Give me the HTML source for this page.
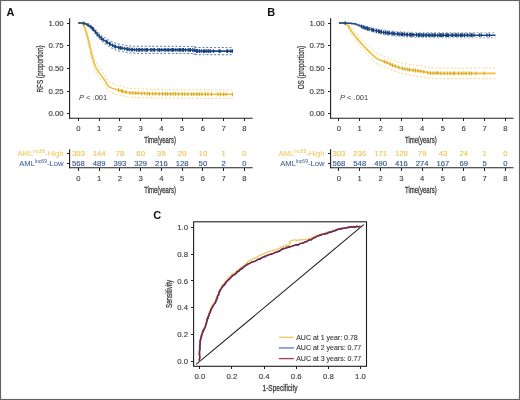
<!DOCTYPE html>
<html><head><meta charset="utf-8"><style>html,body{margin:0;padding:0;background:#fff;width:520px;height:400px;overflow:hidden}</style></head>
<body>
<svg width="520" height="400" viewBox="0 0 520 400" style="display:block;will-change:transform;font-family:'Liberation Sans', sans-serif">
<rect x="0" y="0" width="520" height="400" fill="#fff"/>
<text x="10.40" y="15.80" font-size="11" fill="#111" text-anchor="middle" font-weight="bold"  >A</text>
<text x="271.30" y="15.80" font-size="11" fill="#111" text-anchor="middle" font-weight="bold"  >B</text>
<text x="157.30" y="219.20" font-size="11" fill="#111" text-anchor="middle" font-weight="bold"  >C</text>
<path d="M78.40,23.05 L78.64,23.04 L78.97,23.00 L79.37,22.95 L79.80,22.91 L80.25,22.90 L80.71,22.92 L81.13,22.99 L81.51,23.47 L81.85,23.89 L82.17,24.27 L82.47,24.66 L82.77,25.10 L83.06,25.62 L83.36,26.25 L83.67,26.99 L84.00,27.88 L84.36,28.95 L84.74,30.19 L85.13,31.55 L85.53,32.98 L85.92,34.44 L86.30,35.87 L86.66,37.24 L86.99,38.50 L87.29,39.66 L87.56,40.78 L87.82,41.87 L88.06,42.95 L88.29,44.01 L88.52,45.08 L88.76,46.15 L89.00,47.26 L89.25,48.39 L89.50,49.54 L89.75,50.71 L90.00,51.87 L90.25,53.04 L90.50,54.18 L90.75,55.30 L91.00,56.39 L91.24,57.44 L91.47,58.45 L91.71,59.45 L91.94,60.42 L92.18,61.40 L92.44,62.37 L92.71,63.36 L93.01,64.36 L93.33,65.39 L93.66,66.45 L94.01,67.52 L94.38,68.60 L94.76,69.66 L95.16,70.69 L95.57,71.68 L96.00,72.62 L96.44,73.51 L96.91,74.34 L97.39,75.14 L97.89,75.92 L98.40,76.67 L98.92,77.42 L99.45,78.17 L99.98,78.94 L100.53,79.70 L101.09,80.46 L101.67,81.22 L102.25,81.97 L102.84,82.71 L103.42,83.46 L103.99,84.21 L104.55,84.97 L105.07,85.76 L105.56,86.58 L106.04,87.42 L106.52,88.25 L107.01,89.05 L107.52,89.80 L108.08,90.48 L108.70,91.07 L109.38,91.56 L110.11,91.96 L110.89,92.30 L111.69,92.59 L112.51,92.84 L113.33,93.08 L114.14,93.31 L114.92,93.56 L115.68,93.81 L116.42,94.05 L117.16,94.27 L117.89,94.47 L118.63,94.67 L119.38,94.87 L120.15,95.07 L120.94,95.26 L121.75,95.47 L122.58,95.68 L123.43,95.89 L124.28,96.10 L125.15,96.29 L126.02,96.48 L126.90,96.64 L127.78,96.79 L128.55,96.90 L129.16,97.00 L129.70,97.07 L130.29,97.13 L131.01,97.19 L131.98,97.25 L133.29,97.31 L135.05,97.38 L137.19,97.46 L139.61,97.55 L142.30,97.64 L145.27,97.73 L148.51,97.82 L152.04,97.90 L155.85,97.98 L159.95,98.05 L164.54,98.11 L169.72,98.16 L175.30,98.21 L181.10,98.25 L186.94,98.28 L192.64,98.32 L198.02,98.35 L202.90,98.38 L207.48,98.41 L212.03,98.44 L216.45,98.46 L220.63,98.49 L224.47,98.51 L227.88,98.52 L230.75,98.54 L232.99,98.55" fill="none" stroke="#EBC555" stroke-width="0.85" stroke-dasharray="2,1.85" opacity="0.85"/>
<path d="M78.40,23.05 L78.64,23.04 L78.97,23.00 L79.37,22.95 L79.80,22.91 L80.25,22.90 L80.71,22.92 L81.13,22.99 L81.51,22.82 L81.85,22.76 L82.17,22.78 L82.47,22.85 L82.77,22.97 L83.06,23.15 L83.36,23.40 L83.67,23.75 L84.00,24.21 L84.36,24.82 L84.74,25.58 L85.13,26.47 L85.53,27.45 L85.92,28.48 L86.30,29.54 L86.66,30.57 L86.99,31.55 L87.29,32.47 L87.56,33.36 L87.82,34.25 L88.06,35.13 L88.29,36.01 L88.52,36.90 L88.76,37.81 L89.00,38.75 L89.25,39.73 L89.50,40.73 L89.75,41.75 L90.00,42.78 L90.25,43.82 L90.50,44.85 L90.75,45.86 L91.00,46.85 L91.24,47.81 L91.47,48.75 L91.71,49.67 L91.94,50.58 L92.18,51.50 L92.44,52.41 L92.71,53.35 L93.01,54.30 L93.33,55.29 L93.66,56.31 L94.01,57.35 L94.38,58.39 L94.76,59.43 L95.16,60.45 L95.57,61.43 L96.00,62.36 L96.44,63.24 L96.91,64.08 L97.39,64.89 L97.89,65.67 L98.40,66.43 L98.92,67.20 L99.45,67.96 L99.98,68.75 L100.53,69.54 L101.09,70.32 L101.67,71.10 L102.25,71.89 L102.84,72.67 L103.42,73.46 L103.99,74.25 L104.55,75.05 L105.07,75.88 L105.56,76.76 L106.04,77.66 L106.52,78.56 L107.01,79.43 L107.52,80.25 L108.08,81.00 L108.70,81.65 L109.38,82.18 L110.11,82.63 L110.89,83.01 L111.69,83.33 L112.51,83.61 L113.33,83.87 L114.14,84.14 L114.92,84.42 L115.68,84.70 L116.42,84.96 L117.16,85.21 L117.89,85.44 L118.63,85.67 L119.38,85.89 L120.15,86.11 L120.94,86.34 L121.75,86.57 L122.58,86.81 L123.43,87.05 L124.28,87.29 L125.15,87.52 L126.02,87.73 L126.90,87.92 L127.78,88.08 L128.55,88.22 L129.16,88.33 L129.70,88.41 L130.29,88.48 L131.01,88.55 L131.98,88.61 L133.29,88.68 L135.05,88.76 L137.19,88.86 L139.61,88.96 L142.30,89.07 L145.27,89.17 L148.51,89.28 L152.04,89.37 L155.85,89.46 L159.95,89.54 L164.54,89.61 L169.72,89.67 L175.30,89.73 L181.10,89.78 L186.94,89.82 L192.64,89.86 L198.02,89.90 L202.90,89.94 L207.48,89.97 L212.03,90.00 L216.45,90.03 L220.63,90.06 L224.47,90.08 L227.88,90.10 L230.75,90.12 L232.99,90.13" fill="none" stroke="#EBC555" stroke-width="0.85" stroke-dasharray="2,1.85" opacity="0.85"/>
<path d="M78.40,23.05 L78.64,23.04 L78.97,23.00 L79.37,22.95 L79.80,22.91 L80.25,22.90 L80.71,22.92 L81.13,22.99 L81.51,23.14 L81.85,23.33 L82.17,23.53 L82.47,23.76 L82.77,24.04 L83.06,24.39 L83.36,24.82 L83.67,25.37 L84.00,26.04 L84.36,26.88 L84.74,27.88 L85.13,29.01 L85.53,30.22 L85.92,31.46 L86.30,32.71 L86.66,33.91 L86.99,35.02 L87.29,36.06 L87.56,37.07 L87.82,38.06 L88.06,39.04 L88.29,40.01 L88.52,40.99 L88.76,41.98 L89.00,43.00 L89.25,44.06 L89.50,45.13 L89.75,46.23 L90.00,47.33 L90.25,48.43 L90.50,49.52 L90.75,50.58 L91.00,51.62 L91.24,52.62 L91.47,53.60 L91.71,54.56 L91.94,55.50 L92.18,56.45 L92.44,57.39 L92.71,58.35 L93.01,59.33 L93.33,60.34 L93.66,61.38 L94.01,62.44 L94.38,63.50 L94.76,64.54 L95.16,65.57 L95.57,66.56 L96.00,67.49 L96.44,68.37 L96.91,69.21 L97.39,70.01 L97.89,70.79 L98.40,71.55 L98.92,72.31 L99.45,73.07 L99.98,73.84 L100.53,74.62 L101.09,75.39 L101.67,76.16 L102.25,76.93 L102.84,77.69 L103.42,78.46 L103.99,79.23 L104.55,80.01 L105.07,80.82 L105.56,81.67 L106.04,82.54 L106.52,83.41 L107.01,84.24 L107.52,85.03 L108.08,85.74 L108.70,86.36 L109.38,86.87 L110.11,87.30 L110.89,87.65 L111.69,87.96 L112.51,88.23 L113.33,88.48 L114.14,88.72 L114.92,88.99 L115.68,89.26 L116.42,89.50 L117.16,89.74 L117.89,89.96 L118.63,90.17 L119.38,90.38 L120.15,90.59 L120.94,90.80 L121.75,91.02 L122.58,91.25 L123.43,91.47 L124.28,91.69 L125.15,91.90 L126.02,92.10 L126.90,92.28 L127.78,92.44 L128.55,92.56 L129.16,92.66 L129.70,92.74 L130.29,92.81 L131.01,92.87 L131.98,92.93 L133.29,92.99 L135.05,93.07 L137.19,93.16 L139.61,93.25 L142.30,93.35 L145.27,93.45 L148.51,93.55 L152.04,93.64 L155.85,93.72 L159.95,93.80 L164.54,93.86 L169.72,93.92 L175.30,93.97 L181.10,94.01 L186.94,94.05 L192.64,94.09 L198.02,94.12 L202.90,94.16 L207.48,94.19 L212.03,94.22 L216.45,94.25 L220.63,94.27 L224.47,94.29 L227.88,94.31 L230.75,94.33 L232.99,94.34" fill="none" stroke="#ECBF40" stroke-width="1.55" stroke-linejoin="round"/>
<line x1="118.58" y1="88.26" x2="118.58" y2="92.06" stroke="#D9A820" stroke-width="1.1"/>
<line x1="121.49" y1="89.05" x2="121.49" y2="92.85" stroke="#D9A820" stroke-width="1.1"/>
<line x1="122.94" y1="89.44" x2="122.94" y2="93.24" stroke="#D9A820" stroke-width="1.1"/>
<line x1="125.91" y1="90.18" x2="125.91" y2="93.98" stroke="#D9A820" stroke-width="1.1"/>
<line x1="130.09" y1="90.89" x2="130.09" y2="94.69" stroke="#D9A820" stroke-width="1.1"/>
<line x1="132.85" y1="91.07" x2="132.85" y2="94.87" stroke="#D9A820" stroke-width="1.1"/>
<line x1="135.66" y1="91.20" x2="135.66" y2="95.00" stroke="#D9A820" stroke-width="1.1"/>
<line x1="137.99" y1="91.29" x2="137.99" y2="95.09" stroke="#D9A820" stroke-width="1.1"/>
<line x1="141.41" y1="91.42" x2="141.41" y2="95.22" stroke="#D9A820" stroke-width="1.1"/>
<line x1="144.34" y1="91.52" x2="144.34" y2="95.32" stroke="#D9A820" stroke-width="1.1"/>
<line x1="147.22" y1="91.61" x2="147.22" y2="95.41" stroke="#D9A820" stroke-width="1.1"/>
<line x1="149.45" y1="91.67" x2="149.45" y2="95.47" stroke="#D9A820" stroke-width="1.1"/>
<line x1="152.83" y1="91.76" x2="152.83" y2="95.56" stroke="#D9A820" stroke-width="1.1"/>
<line x1="155.69" y1="91.82" x2="155.69" y2="95.62" stroke="#D9A820" stroke-width="1.1"/>
<line x1="159.16" y1="91.88" x2="159.16" y2="95.68" stroke="#D9A820" stroke-width="1.1"/>
<line x1="162.54" y1="91.93" x2="162.54" y2="95.73" stroke="#D9A820" stroke-width="1.1"/>
<line x1="165.39" y1="91.97" x2="165.39" y2="95.77" stroke="#D9A820" stroke-width="1.1"/>
<line x1="167.65" y1="91.99" x2="167.65" y2="95.79" stroke="#D9A820" stroke-width="1.1"/>
<line x1="170.41" y1="92.02" x2="170.41" y2="95.82" stroke="#D9A820" stroke-width="1.1"/>
<line x1="173.04" y1="92.05" x2="173.04" y2="95.85" stroke="#D9A820" stroke-width="1.1"/>
<line x1="175.58" y1="92.07" x2="175.58" y2="95.87" stroke="#D9A820" stroke-width="1.1"/>
<line x1="178.49" y1="92.09" x2="178.49" y2="95.89" stroke="#D9A820" stroke-width="1.1"/>
<line x1="182.14" y1="92.12" x2="182.14" y2="95.92" stroke="#D9A820" stroke-width="1.1"/>
<line x1="184.83" y1="92.14" x2="184.83" y2="95.94" stroke="#D9A820" stroke-width="1.1"/>
<line x1="187.86" y1="92.16" x2="187.86" y2="95.96" stroke="#D9A820" stroke-width="1.1"/>
<line x1="191.63" y1="92.18" x2="191.63" y2="95.98" stroke="#D9A820" stroke-width="1.1"/>
<line x1="193.95" y1="92.20" x2="193.95" y2="96.00" stroke="#D9A820" stroke-width="1.1"/>
<line x1="196.94" y1="92.22" x2="196.94" y2="96.02" stroke="#D9A820" stroke-width="1.1"/>
<line x1="199.32" y1="92.23" x2="199.32" y2="96.03" stroke="#D9A820" stroke-width="1.1"/>
<line x1="201.90" y1="92.25" x2="201.90" y2="96.05" stroke="#D9A820" stroke-width="1.1"/>
<line x1="205.32" y1="92.28" x2="205.32" y2="96.08" stroke="#D9A820" stroke-width="1.1"/>
<line x1="207.94" y1="92.29" x2="207.94" y2="96.09" stroke="#D9A820" stroke-width="1.1"/>
<line x1="211.48" y1="92.32" x2="211.48" y2="96.12" stroke="#D9A820" stroke-width="1.1"/>
<line x1="217.97" y1="92.36" x2="217.97" y2="96.16" stroke="#D9A820" stroke-width="1.1"/>
<line x1="220.63" y1="92.37" x2="220.63" y2="96.17" stroke="#D9A820" stroke-width="1.1"/>
<line x1="223.61" y1="92.39" x2="223.61" y2="96.19" stroke="#D9A820" stroke-width="1.1"/>
<line x1="225.85" y1="92.40" x2="225.85" y2="96.20" stroke="#D9A820" stroke-width="1.1"/>
<line x1="232.37" y1="92.44" x2="232.37" y2="96.24" stroke="#D9A820" stroke-width="1.1"/>
<path d="M78.40,23.05 L78.80,23.08 L79.34,23.04 L79.98,23.02 L80.69,23.01 L81.44,23.02 L82.20,23.05 L82.92,23.33 L83.59,23.58 L84.21,23.86 L84.83,24.18 L85.44,24.52 L86.04,24.88 L86.64,25.27 L87.24,25.67 L87.82,26.09 L88.40,26.52 L88.97,26.96 L89.53,27.42 L90.08,27.89 L90.63,28.39 L91.17,28.91 L91.71,29.45 L92.25,30.03 L92.80,30.64 L93.35,31.30 L93.90,32.02 L94.45,32.78 L95.01,33.56 L95.56,34.35 L96.11,35.12 L96.65,35.85 L97.20,36.54 L97.74,37.20 L98.28,37.84 L98.81,38.46 L99.35,39.07 L99.88,39.65 L100.42,40.22 L100.95,40.76 L101.49,41.27 L102.04,41.75 L102.59,42.21 L103.14,42.63 L103.69,43.04 L104.24,43.43 L104.79,43.81 L105.34,44.19 L105.89,44.57 L106.44,44.94 L106.99,45.31 L107.54,45.67 L108.09,46.02 L108.64,46.37 L109.19,46.70 L109.74,47.03 L110.29,47.35 L110.84,47.67 L111.39,47.98 L111.94,48.28 L112.49,48.58 L113.04,48.87 L113.59,49.14 L114.14,49.40 L114.69,49.64 L115.24,49.86 L115.79,50.07 L116.34,50.27 L116.89,50.45 L117.44,50.62 L117.99,50.77 L118.54,50.92 L119.09,51.06 L119.61,51.18 L120.09,51.28 L120.54,51.37 L121.01,51.45 L121.51,51.52 L122.08,51.61 L122.73,51.70 L123.49,51.82 L124.32,51.96 L125.16,52.14 L126.05,52.32 L127.03,52.52 L128.11,52.70 L129.34,52.88 L130.74,53.02 L132.35,53.14 L134.06,53.22 L135.79,53.27 L137.63,53.29 L139.65,53.30 L141.92,53.31 L144.52,53.31 L147.53,53.31 L151.03,53.33 L155.38,53.35 L160.69,53.36 L166.60,53.36 L172.75,53.37 L178.77,53.38 L184.31,53.41 L189.02,53.45 L192.53,53.52 L194.52,53.61 L195.20,53.74 L195.00,53.88 L194.34,54.03 L193.65,54.19 L193.35,54.33 L193.87,54.46 L195.64,54.55 L198.92,54.62 L203.44,54.66 L208.78,54.69 L214.51,54.71 L220.21,54.72 L225.47,54.72 L229.87,54.73 L232.99,54.74" fill="none" stroke="#1B4784" stroke-width="0.85" stroke-dasharray="2,1.85" opacity="0.9"/>
<path d="M78.40,23.05 L78.80,23.03 L79.34,23.04 L79.98,23.02 L80.69,23.01 L81.44,23.02 L82.20,23.05 L82.92,22.91 L83.59,22.89 L84.21,22.92 L84.83,22.99 L85.44,23.11 L86.04,23.26 L86.64,23.43 L87.24,23.64 L87.82,23.86 L88.40,24.11 L88.97,24.38 L89.53,24.66 L90.08,24.97 L90.63,25.30 L91.17,25.65 L91.71,26.03 L92.25,26.44 L92.80,26.89 L93.35,27.38 L93.90,27.92 L94.45,28.51 L95.01,29.11 L95.56,29.73 L96.11,30.35 L96.65,30.94 L97.20,31.51 L97.74,32.04 L98.28,32.58 L98.81,33.10 L99.35,33.61 L99.88,34.10 L100.42,34.58 L100.95,35.04 L101.49,35.48 L102.04,35.90 L102.59,36.29 L103.14,36.66 L103.69,37.02 L104.24,37.36 L104.79,37.69 L105.34,38.02 L105.89,38.36 L106.44,38.69 L106.99,39.01 L107.54,39.33 L108.09,39.64 L108.64,39.95 L109.19,40.25 L109.74,40.55 L110.29,40.83 L110.84,41.12 L111.39,41.40 L111.94,41.67 L112.49,41.94 L113.04,42.20 L113.59,42.45 L114.14,42.68 L114.69,42.90 L115.24,43.10 L115.79,43.29 L116.34,43.47 L116.89,43.63 L117.44,43.79 L117.99,43.93 L118.54,44.07 L119.09,44.20 L119.61,44.31 L120.09,44.40 L120.54,44.48 L121.01,44.55 L121.51,44.62 L122.08,44.70 L122.73,44.78 L123.49,44.89 L124.32,45.03 L125.16,45.18 L126.05,45.36 L127.03,45.53 L128.11,45.71 L129.34,45.87 L130.74,46.00 L132.35,46.11 L134.06,46.18 L135.79,46.23 L137.63,46.25 L139.65,46.26 L141.92,46.27 L144.52,46.27 L147.53,46.27 L151.03,46.28 L155.38,46.30 L160.69,46.31 L166.60,46.32 L172.75,46.32 L178.77,46.34 L184.31,46.36 L189.02,46.40 L192.53,46.46 L194.52,46.55 L195.20,46.66 L195.00,46.80 L194.34,46.94 L193.65,47.08 L193.35,47.22 L193.87,47.33 L195.64,47.42 L198.92,47.48 L203.44,47.52 L208.78,47.55 L214.51,47.57 L220.21,47.58 L225.47,47.58 L229.87,47.59 L232.99,47.60" fill="none" stroke="#1B4784" stroke-width="0.85" stroke-dasharray="2,1.85" opacity="0.9"/>
<path d="M78.40,23.05 L78.80,23.05 L79.34,23.04 L79.98,23.02 L80.69,23.01 L81.44,23.02 L82.20,23.05 L82.92,23.12 L83.59,23.23 L84.21,23.39 L84.83,23.59 L85.44,23.81 L86.04,24.07 L86.64,24.35 L87.24,24.66 L87.82,24.98 L88.40,25.32 L88.97,25.67 L89.53,26.04 L90.08,26.43 L90.63,26.84 L91.17,27.28 L91.71,27.74 L92.25,28.24 L92.80,28.76 L93.35,29.34 L93.90,29.97 L94.45,30.64 L95.01,31.34 L95.56,32.04 L96.11,32.73 L96.65,33.40 L97.20,34.02 L97.74,34.62 L98.28,35.21 L98.81,35.78 L99.35,36.34 L99.88,36.88 L100.42,37.40 L100.95,37.90 L101.49,38.38 L102.04,38.83 L102.59,39.25 L103.14,39.65 L103.69,40.03 L104.24,40.39 L104.79,40.75 L105.34,41.11 L105.89,41.46 L106.44,41.82 L106.99,42.16 L107.54,42.50 L108.09,42.83 L108.64,43.16 L109.19,43.48 L109.74,43.79 L110.29,44.09 L110.84,44.39 L111.39,44.69 L111.94,44.98 L112.49,45.26 L113.04,45.53 L113.59,45.79 L114.14,46.04 L114.69,46.27 L115.24,46.48 L115.79,46.68 L116.34,46.87 L116.89,47.04 L117.44,47.20 L117.99,47.35 L118.54,47.50 L119.09,47.63 L119.61,47.75 L120.09,47.84 L120.54,47.92 L121.01,48.00 L121.51,48.07 L122.08,48.15 L122.73,48.24 L123.49,48.36 L124.32,48.50 L125.16,48.66 L126.05,48.84 L127.03,49.02 L128.11,49.20 L129.34,49.37 L130.74,49.51 L132.35,49.63 L134.06,49.70 L135.79,49.75 L137.63,49.77 L139.65,49.78 L141.92,49.79 L144.52,49.79 L147.53,49.79 L151.03,49.81 L155.38,49.82 L160.69,49.83 L166.60,49.84 L172.75,49.85 L178.77,49.86 L184.31,49.89 L189.02,49.93 L192.53,49.99 L194.52,50.08 L195.20,50.20 L195.00,50.34 L194.34,50.49 L193.65,50.64 L193.35,50.77 L193.87,50.89 L195.64,50.99 L198.92,51.05 L203.44,51.09 L208.78,51.12 L214.51,51.14 L220.21,51.15 L225.47,51.15 L229.87,51.16 L232.99,51.17" fill="none" stroke="#1B4784" stroke-width="1.6" stroke-linejoin="round"/>
<line x1="84.00" y1="21.44" x2="84.00" y2="25.24" stroke="#163F78" stroke-width="1.1"/>
<line x1="88.17" y1="23.28" x2="88.17" y2="27.08" stroke="#163F78" stroke-width="1.1"/>
<line x1="91.06" y1="25.29" x2="91.06" y2="29.09" stroke="#163F78" stroke-width="1.1"/>
<line x1="92.62" y1="26.69" x2="92.62" y2="30.49" stroke="#163F78" stroke-width="1.1"/>
<line x1="93.48" y1="27.59" x2="93.48" y2="31.39" stroke="#163F78" stroke-width="1.1"/>
<line x1="95.59" y1="30.17" x2="95.59" y2="33.97" stroke="#163F78" stroke-width="1.1"/>
<line x1="97.21" y1="32.14" x2="97.21" y2="35.94" stroke="#163F78" stroke-width="1.1"/>
<line x1="99.25" y1="34.34" x2="99.25" y2="38.14" stroke="#163F78" stroke-width="1.1"/>
<line x1="101.19" y1="36.21" x2="101.19" y2="40.01" stroke="#163F78" stroke-width="1.1"/>
<line x1="101.74" y1="36.68" x2="101.74" y2="40.48" stroke="#163F78" stroke-width="1.1"/>
<line x1="103.33" y1="37.88" x2="103.33" y2="41.68" stroke="#163F78" stroke-width="1.1"/>
<line x1="106.38" y1="39.87" x2="106.38" y2="43.67" stroke="#163F78" stroke-width="1.1"/>
<line x1="107.41" y1="40.52" x2="107.41" y2="44.32" stroke="#163F78" stroke-width="1.1"/>
<line x1="109.66" y1="41.84" x2="109.66" y2="45.64" stroke="#163F78" stroke-width="1.1"/>
<line x1="110.11" y1="42.09" x2="110.11" y2="45.89" stroke="#163F78" stroke-width="1.1"/>
<line x1="112.55" y1="43.39" x2="112.55" y2="47.19" stroke="#163F78" stroke-width="1.1"/>
<line x1="114.71" y1="44.38" x2="114.71" y2="48.18" stroke="#163F78" stroke-width="1.1"/>
<line x1="115.60" y1="44.71" x2="115.60" y2="48.51" stroke="#163F78" stroke-width="1.1"/>
<line x1="118.49" y1="45.58" x2="118.49" y2="49.38" stroke="#163F78" stroke-width="1.1"/>
<line x1="120.12" y1="45.95" x2="120.12" y2="49.75" stroke="#163F78" stroke-width="1.1"/>
<line x1="120.38" y1="46.00" x2="120.38" y2="49.80" stroke="#163F78" stroke-width="1.1"/>
<line x1="122.08" y1="46.25" x2="122.08" y2="50.05" stroke="#163F78" stroke-width="1.1"/>
<line x1="124.64" y1="46.66" x2="124.64" y2="50.46" stroke="#163F78" stroke-width="1.1"/>
<line x1="127.00" y1="47.12" x2="127.00" y2="50.92" stroke="#163F78" stroke-width="1.1"/>
<line x1="127.78" y1="47.25" x2="127.78" y2="51.05" stroke="#163F78" stroke-width="1.1"/>
<line x1="129.21" y1="47.45" x2="129.21" y2="51.25" stroke="#163F78" stroke-width="1.1"/>
<line x1="131.26" y1="47.65" x2="131.26" y2="51.45" stroke="#163F78" stroke-width="1.1"/>
<line x1="132.31" y1="47.72" x2="132.31" y2="51.52" stroke="#163F78" stroke-width="1.1"/>
<line x1="134.33" y1="47.81" x2="134.33" y2="51.61" stroke="#163F78" stroke-width="1.1"/>
<line x1="136.40" y1="47.86" x2="136.40" y2="51.66" stroke="#163F78" stroke-width="1.1"/>
<line x1="138.20" y1="47.88" x2="138.20" y2="51.68" stroke="#163F78" stroke-width="1.1"/>
<line x1="139.47" y1="47.88" x2="139.47" y2="51.68" stroke="#163F78" stroke-width="1.1"/>
<line x1="141.17" y1="47.89" x2="141.17" y2="51.69" stroke="#163F78" stroke-width="1.1"/>
<line x1="142.85" y1="47.89" x2="142.85" y2="51.69" stroke="#163F78" stroke-width="1.1"/>
<line x1="144.96" y1="47.89" x2="144.96" y2="51.69" stroke="#163F78" stroke-width="1.1"/>
<line x1="146.38" y1="47.89" x2="146.38" y2="51.69" stroke="#163F78" stroke-width="1.1"/>
<line x1="147.64" y1="47.89" x2="147.64" y2="51.69" stroke="#163F78" stroke-width="1.1"/>
<line x1="150.70" y1="47.91" x2="150.70" y2="51.71" stroke="#163F78" stroke-width="1.1"/>
<line x1="151.93" y1="47.91" x2="151.93" y2="51.71" stroke="#163F78" stroke-width="1.1"/>
<line x1="153.78" y1="47.92" x2="153.78" y2="51.72" stroke="#163F78" stroke-width="1.1"/>
<line x1="154.73" y1="47.92" x2="154.73" y2="51.72" stroke="#163F78" stroke-width="1.1"/>
<line x1="157.77" y1="47.93" x2="157.77" y2="51.73" stroke="#163F78" stroke-width="1.1"/>
<line x1="159.26" y1="47.93" x2="159.26" y2="51.73" stroke="#163F78" stroke-width="1.1"/>
<line x1="159.73" y1="47.93" x2="159.73" y2="51.73" stroke="#163F78" stroke-width="1.1"/>
<line x1="161.79" y1="47.93" x2="161.79" y2="51.73" stroke="#163F78" stroke-width="1.1"/>
<line x1="164.14" y1="47.94" x2="164.14" y2="51.74" stroke="#163F78" stroke-width="1.1"/>
<line x1="165.83" y1="47.94" x2="165.83" y2="51.74" stroke="#163F78" stroke-width="1.1"/>
<line x1="167.90" y1="47.94" x2="167.90" y2="51.74" stroke="#163F78" stroke-width="1.1"/>
<line x1="168.76" y1="47.94" x2="168.76" y2="51.74" stroke="#163F78" stroke-width="1.1"/>
<line x1="171.14" y1="47.94" x2="171.14" y2="51.74" stroke="#163F78" stroke-width="1.1"/>
<line x1="172.58" y1="47.95" x2="172.58" y2="51.75" stroke="#163F78" stroke-width="1.1"/>
<line x1="173.67" y1="47.95" x2="173.67" y2="51.75" stroke="#163F78" stroke-width="1.1"/>
<line x1="175.85" y1="47.95" x2="175.85" y2="51.75" stroke="#163F78" stroke-width="1.1"/>
<line x1="178.04" y1="47.96" x2="178.04" y2="51.76" stroke="#163F78" stroke-width="1.1"/>
<line x1="179.69" y1="47.96" x2="179.69" y2="51.76" stroke="#163F78" stroke-width="1.1"/>
<line x1="180.82" y1="47.97" x2="180.82" y2="51.77" stroke="#163F78" stroke-width="1.1"/>
<line x1="182.67" y1="47.98" x2="182.67" y2="51.78" stroke="#163F78" stroke-width="1.1"/>
<line x1="183.45" y1="47.98" x2="183.45" y2="51.78" stroke="#163F78" stroke-width="1.1"/>
<line x1="185.50" y1="48.00" x2="185.50" y2="51.80" stroke="#163F78" stroke-width="1.1"/>
<line x1="188.13" y1="48.02" x2="188.13" y2="51.82" stroke="#163F78" stroke-width="1.1"/>
<line x1="189.20" y1="48.03" x2="189.20" y2="51.83" stroke="#163F78" stroke-width="1.1"/>
<line x1="190.50" y1="48.05" x2="190.50" y2="51.85" stroke="#163F78" stroke-width="1.1"/>
<line x1="192.83" y1="48.10" x2="192.83" y2="51.90" stroke="#163F78" stroke-width="1.1"/>
<line x1="194.79" y1="48.23" x2="194.79" y2="52.03" stroke="#163F78" stroke-width="1.1"/>
<line x1="196.45" y1="49.10" x2="196.45" y2="52.90" stroke="#163F78" stroke-width="1.1"/>
<line x1="197.65" y1="49.12" x2="197.65" y2="52.92" stroke="#163F78" stroke-width="1.1"/>
<line x1="199.46" y1="49.15" x2="199.46" y2="52.95" stroke="#163F78" stroke-width="1.1"/>
<line x1="201.28" y1="49.17" x2="201.28" y2="52.97" stroke="#163F78" stroke-width="1.1"/>
<line x1="203.44" y1="49.19" x2="203.44" y2="52.99" stroke="#163F78" stroke-width="1.1"/>
<line x1="204.71" y1="49.20" x2="204.71" y2="53.00" stroke="#163F78" stroke-width="1.1"/>
<line x1="206.21" y1="49.21" x2="206.21" y2="53.01" stroke="#163F78" stroke-width="1.1"/>
<line x1="208.07" y1="49.22" x2="208.07" y2="53.02" stroke="#163F78" stroke-width="1.1"/>
<line x1="209.01" y1="49.22" x2="209.01" y2="53.02" stroke="#163F78" stroke-width="1.1"/>
<line x1="210.74" y1="49.23" x2="210.74" y2="53.03" stroke="#163F78" stroke-width="1.1"/>
<line x1="213.54" y1="49.24" x2="213.54" y2="53.04" stroke="#163F78" stroke-width="1.1"/>
<line x1="219.11" y1="49.25" x2="219.11" y2="53.05" stroke="#163F78" stroke-width="1.1"/>
<line x1="220.08" y1="49.25" x2="220.08" y2="53.05" stroke="#163F78" stroke-width="1.1"/>
<line x1="226.92" y1="49.26" x2="226.92" y2="53.06" stroke="#163F78" stroke-width="1.1"/>
<line x1="227.72" y1="49.26" x2="227.72" y2="53.06" stroke="#163F78" stroke-width="1.1"/>
<line x1="230.78" y1="49.26" x2="230.78" y2="53.06" stroke="#163F78" stroke-width="1.1"/>
<line x1="232.35" y1="49.27" x2="232.35" y2="53.07" stroke="#163F78" stroke-width="1.1"/>
<line x1="69.60" y1="18.20" x2="69.60" y2="118.70" stroke="#1f1f1f" stroke-width="1.1" />
<line x1="69.10" y1="118.20" x2="252.60" y2="118.20" stroke="#1f1f1f" stroke-width="1.1" />
<line x1="66.60" y1="113.75" x2="69.60" y2="113.75" stroke="#1f1f1f" stroke-width="1.0"  shape-rendering="crispEdges"/>
<text x="63.70" y="116.35" font-size="7.8" fill="#3a3a3a" text-anchor="end" font-weight="normal" stroke="#3a3a3a" stroke-width="0.12" >0.00</text>
<line x1="66.60" y1="91.08" x2="69.60" y2="91.08" stroke="#1f1f1f" stroke-width="1.0"  shape-rendering="crispEdges"/>
<text x="63.70" y="93.67" font-size="7.8" fill="#3a3a3a" text-anchor="end" font-weight="normal" stroke="#3a3a3a" stroke-width="0.12" >0.25</text>
<line x1="66.60" y1="68.40" x2="69.60" y2="68.40" stroke="#1f1f1f" stroke-width="1.0"  shape-rendering="crispEdges"/>
<text x="63.70" y="71.00" font-size="7.8" fill="#3a3a3a" text-anchor="end" font-weight="normal" stroke="#3a3a3a" stroke-width="0.12" >0.50</text>
<line x1="66.60" y1="45.72" x2="69.60" y2="45.72" stroke="#1f1f1f" stroke-width="1.0"  shape-rendering="crispEdges"/>
<text x="63.70" y="48.32" font-size="7.8" fill="#3a3a3a" text-anchor="end" font-weight="normal" stroke="#3a3a3a" stroke-width="0.12" >0.75</text>
<line x1="66.60" y1="23.05" x2="69.60" y2="23.05" stroke="#1f1f1f" stroke-width="1.0"  shape-rendering="crispEdges"/>
<text x="63.70" y="25.65" font-size="7.8" fill="#3a3a3a" text-anchor="end" font-weight="normal" stroke="#3a3a3a" stroke-width="0.12" >1.00</text>
<line x1="78.40" y1="118.20" x2="78.40" y2="121.00" stroke="#1f1f1f" stroke-width="1.0"  shape-rendering="crispEdges"/>
<text x="78.40" y="130.60" font-size="7.7" fill="#3a3a3a" text-anchor="middle" font-weight="normal" stroke="#3a3a3a" stroke-width="0.12" >0</text>
<line x1="99.15" y1="118.20" x2="99.15" y2="121.00" stroke="#1f1f1f" stroke-width="1.0"  shape-rendering="crispEdges"/>
<text x="99.15" y="130.60" font-size="7.7" fill="#3a3a3a" text-anchor="middle" font-weight="normal" stroke="#3a3a3a" stroke-width="0.12" >1</text>
<line x1="119.90" y1="118.20" x2="119.90" y2="121.00" stroke="#1f1f1f" stroke-width="1.0"  shape-rendering="crispEdges"/>
<text x="119.90" y="130.60" font-size="7.7" fill="#3a3a3a" text-anchor="middle" font-weight="normal" stroke="#3a3a3a" stroke-width="0.12" >2</text>
<line x1="140.65" y1="118.20" x2="140.65" y2="121.00" stroke="#1f1f1f" stroke-width="1.0"  shape-rendering="crispEdges"/>
<text x="140.65" y="130.60" font-size="7.7" fill="#3a3a3a" text-anchor="middle" font-weight="normal" stroke="#3a3a3a" stroke-width="0.12" >3</text>
<line x1="161.40" y1="118.20" x2="161.40" y2="121.00" stroke="#1f1f1f" stroke-width="1.0"  shape-rendering="crispEdges"/>
<text x="161.40" y="130.60" font-size="7.7" fill="#3a3a3a" text-anchor="middle" font-weight="normal" stroke="#3a3a3a" stroke-width="0.12" >4</text>
<line x1="182.15" y1="118.20" x2="182.15" y2="121.00" stroke="#1f1f1f" stroke-width="1.0"  shape-rendering="crispEdges"/>
<text x="182.15" y="130.60" font-size="7.7" fill="#3a3a3a" text-anchor="middle" font-weight="normal" stroke="#3a3a3a" stroke-width="0.12" >5</text>
<line x1="202.90" y1="118.20" x2="202.90" y2="121.00" stroke="#1f1f1f" stroke-width="1.0"  shape-rendering="crispEdges"/>
<text x="202.90" y="130.60" font-size="7.7" fill="#3a3a3a" text-anchor="middle" font-weight="normal" stroke="#3a3a3a" stroke-width="0.12" >6</text>
<line x1="223.65" y1="118.20" x2="223.65" y2="121.00" stroke="#1f1f1f" stroke-width="1.0"  shape-rendering="crispEdges"/>
<text x="223.65" y="130.60" font-size="7.7" fill="#3a3a3a" text-anchor="middle" font-weight="normal" stroke="#3a3a3a" stroke-width="0.12" >7</text>
<line x1="244.40" y1="118.20" x2="244.40" y2="121.00" stroke="#1f1f1f" stroke-width="1.0"  shape-rendering="crispEdges"/>
<text x="244.40" y="130.60" font-size="7.7" fill="#3a3a3a" text-anchor="middle" font-weight="normal" stroke="#3a3a3a" stroke-width="0.12" >8</text>
<text x="160.10" y="142.70" font-size="9" fill="#3a3a3a" text-anchor="middle" font-weight="normal"  textLength="31.6" lengthAdjust="spacingAndGlyphs" stroke="#3a3a3a" stroke-width="0.3">Time(years)</text>
<text x="0" y="0" font-size="8.8" fill="#3a3a3a" stroke="#3a3a3a" stroke-width="0.28" text-anchor="middle" transform="translate(43.30,69.0) rotate(-90)" textLength="47" lengthAdjust="spacingAndGlyphs">RFS (proportion)</text>
<text x="79.00" y="100.3" font-size="7.5" fill="#3a3a3a"><tspan font-style="italic">P</tspan> &lt; .001</text>
<line x1="69.60" y1="149.30" x2="69.60" y2="168.30" stroke="#1f1f1f" stroke-width="1.1" />
<line x1="69.10" y1="167.80" x2="252.60" y2="167.80" stroke="#1f1f1f" stroke-width="1.1" />
<line x1="66.60" y1="153.30" x2="69.60" y2="153.30" stroke="#1f1f1f" stroke-width="1.0"  shape-rendering="crispEdges"/>
<line x1="66.60" y1="163.20" x2="69.60" y2="163.20" stroke="#1f1f1f" stroke-width="1.0"  shape-rendering="crispEdges"/>
<line x1="78.40" y1="167.80" x2="78.40" y2="170.60" stroke="#1f1f1f" stroke-width="1.0"  shape-rendering="crispEdges"/>
<text x="78.40" y="180.50" font-size="7.7" fill="#3a3a3a" text-anchor="middle" font-weight="normal" stroke="#3a3a3a" stroke-width="0.12" >0</text>
<text x="78.40" y="156.10" font-size="7.7" fill="#ECC352" text-anchor="middle" font-weight="normal" stroke="#ECC352" stroke-width="0.12" >303</text>
<text x="78.40" y="165.70" font-size="7.7" fill="#2E5690" text-anchor="middle" font-weight="normal" stroke="#2E5690" stroke-width="0.12" >568</text>
<line x1="99.15" y1="167.80" x2="99.15" y2="170.60" stroke="#1f1f1f" stroke-width="1.0"  shape-rendering="crispEdges"/>
<text x="99.15" y="180.50" font-size="7.7" fill="#3a3a3a" text-anchor="middle" font-weight="normal" stroke="#3a3a3a" stroke-width="0.12" >1</text>
<text x="99.15" y="156.10" font-size="7.7" fill="#ECC352" text-anchor="middle" font-weight="normal" stroke="#ECC352" stroke-width="0.12" >144</text>
<text x="99.15" y="165.70" font-size="7.7" fill="#2E5690" text-anchor="middle" font-weight="normal" stroke="#2E5690" stroke-width="0.12" >489</text>
<line x1="119.90" y1="167.80" x2="119.90" y2="170.60" stroke="#1f1f1f" stroke-width="1.0"  shape-rendering="crispEdges"/>
<text x="119.90" y="180.50" font-size="7.7" fill="#3a3a3a" text-anchor="middle" font-weight="normal" stroke="#3a3a3a" stroke-width="0.12" >2</text>
<text x="119.90" y="156.10" font-size="7.7" fill="#ECC352" text-anchor="middle" font-weight="normal" stroke="#ECC352" stroke-width="0.12" >78</text>
<text x="119.90" y="165.70" font-size="7.7" fill="#2E5690" text-anchor="middle" font-weight="normal" stroke="#2E5690" stroke-width="0.12" >393</text>
<line x1="140.65" y1="167.80" x2="140.65" y2="170.60" stroke="#1f1f1f" stroke-width="1.0"  shape-rendering="crispEdges"/>
<text x="140.65" y="180.50" font-size="7.7" fill="#3a3a3a" text-anchor="middle" font-weight="normal" stroke="#3a3a3a" stroke-width="0.12" >3</text>
<text x="140.65" y="156.10" font-size="7.7" fill="#ECC352" text-anchor="middle" font-weight="normal" stroke="#ECC352" stroke-width="0.12" >60</text>
<text x="140.65" y="165.70" font-size="7.7" fill="#2E5690" text-anchor="middle" font-weight="normal" stroke="#2E5690" stroke-width="0.12" >329</text>
<line x1="161.40" y1="167.80" x2="161.40" y2="170.60" stroke="#1f1f1f" stroke-width="1.0"  shape-rendering="crispEdges"/>
<text x="161.40" y="180.50" font-size="7.7" fill="#3a3a3a" text-anchor="middle" font-weight="normal" stroke="#3a3a3a" stroke-width="0.12" >4</text>
<text x="161.40" y="156.10" font-size="7.7" fill="#ECC352" text-anchor="middle" font-weight="normal" stroke="#ECC352" stroke-width="0.12" >39</text>
<text x="161.40" y="165.70" font-size="7.7" fill="#2E5690" text-anchor="middle" font-weight="normal" stroke="#2E5690" stroke-width="0.12" >216</text>
<line x1="182.15" y1="167.80" x2="182.15" y2="170.60" stroke="#1f1f1f" stroke-width="1.0"  shape-rendering="crispEdges"/>
<text x="182.15" y="180.50" font-size="7.7" fill="#3a3a3a" text-anchor="middle" font-weight="normal" stroke="#3a3a3a" stroke-width="0.12" >5</text>
<text x="182.15" y="156.10" font-size="7.7" fill="#ECC352" text-anchor="middle" font-weight="normal" stroke="#ECC352" stroke-width="0.12" >20</text>
<text x="182.15" y="165.70" font-size="7.7" fill="#2E5690" text-anchor="middle" font-weight="normal" stroke="#2E5690" stroke-width="0.12" >128</text>
<line x1="202.90" y1="167.80" x2="202.90" y2="170.60" stroke="#1f1f1f" stroke-width="1.0"  shape-rendering="crispEdges"/>
<text x="202.90" y="180.50" font-size="7.7" fill="#3a3a3a" text-anchor="middle" font-weight="normal" stroke="#3a3a3a" stroke-width="0.12" >6</text>
<text x="202.90" y="156.10" font-size="7.7" fill="#ECC352" text-anchor="middle" font-weight="normal" stroke="#ECC352" stroke-width="0.12" >10</text>
<text x="202.90" y="165.70" font-size="7.7" fill="#2E5690" text-anchor="middle" font-weight="normal" stroke="#2E5690" stroke-width="0.12" >50</text>
<line x1="223.65" y1="167.80" x2="223.65" y2="170.60" stroke="#1f1f1f" stroke-width="1.0"  shape-rendering="crispEdges"/>
<text x="223.65" y="180.50" font-size="7.7" fill="#3a3a3a" text-anchor="middle" font-weight="normal" stroke="#3a3a3a" stroke-width="0.12" >7</text>
<text x="223.65" y="156.10" font-size="7.7" fill="#ECC352" text-anchor="middle" font-weight="normal" stroke="#ECC352" stroke-width="0.12" >1</text>
<text x="223.65" y="165.70" font-size="7.7" fill="#2E5690" text-anchor="middle" font-weight="normal" stroke="#2E5690" stroke-width="0.12" >2</text>
<line x1="244.40" y1="167.80" x2="244.40" y2="170.60" stroke="#1f1f1f" stroke-width="1.0"  shape-rendering="crispEdges"/>
<text x="244.40" y="180.50" font-size="7.7" fill="#3a3a3a" text-anchor="middle" font-weight="normal" stroke="#3a3a3a" stroke-width="0.12" >8</text>
<text x="244.40" y="156.10" font-size="7.7" fill="#ECC352" text-anchor="middle" font-weight="normal" stroke="#ECC352" stroke-width="0.12" >0</text>
<text x="244.40" y="165.70" font-size="7.7" fill="#2E5690" text-anchor="middle" font-weight="normal" stroke="#2E5690" stroke-width="0.12" >0</text>
<text x="160.10" y="192.60" font-size="9" fill="#3a3a3a" text-anchor="middle" font-weight="normal"  textLength="31.6" lengthAdjust="spacingAndGlyphs" stroke="#3a3a3a" stroke-width="0.3">Time(years)</text>
<text x="63.60" y="156.10" font-size="7.7" fill="#ECC352" text-anchor="end">AML<tspan font-size="5" dy="-3">lnc69</tspan><tspan dy="3">-High</tspan></text>
<text x="63.60" y="165.70" font-size="7.7" fill="#2E5690" text-anchor="end">AML<tspan font-size="5" dy="-3">lnc69</tspan><tspan dy="3">-Low</tspan></text>
<path d="M338.95,23.05 L339.27,23.10 L339.71,23.05 L340.23,23.05 L340.80,23.04 L341.40,23.05 L342.01,23.20 L342.59,23.33 L343.11,23.48 L343.58,23.52 L344.02,23.41 L344.44,23.19 L344.86,23.03 L345.29,23.22 L345.74,23.65 L346.23,24.23 L346.77,25.01 L347.36,26.04 L347.99,27.25 L348.64,28.61 L349.33,30.03 L350.03,31.49 L350.75,32.91 L351.47,34.27 L352.20,35.51 L352.94,36.65 L353.70,37.78 L354.48,38.89 L355.26,39.98 L356.06,41.05 L356.85,42.10 L357.64,43.13 L358.42,44.14 L359.19,45.13 L359.96,46.10 L360.72,47.05 L361.49,47.98 L362.25,48.90 L363.02,49.80 L363.78,50.69 L364.55,51.56 L365.33,52.43 L366.11,53.27 L366.89,54.10 L367.67,54.92 L368.45,55.72 L369.22,56.51 L370.00,57.29 L370.77,58.05 L371.52,58.81 L372.23,59.56 L372.93,60.30 L373.64,61.03 L374.36,61.74 L375.14,62.42 L375.97,63.07 L376.89,63.68 L377.90,64.25 L379.00,64.77 L380.16,65.26 L381.36,65.73 L382.59,66.18 L383.83,66.63 L385.04,67.09 L386.23,67.57 L387.39,68.07 L388.54,68.58 L389.70,69.10 L390.85,69.61 L392.00,70.12 L393.16,70.61 L394.31,71.08 L395.46,71.51 L396.59,71.91 L397.66,72.29 L398.72,72.65 L399.79,73.00 L400.89,73.32 L402.06,73.64 L403.32,73.94 L404.70,74.24 L406.26,74.53 L408.00,74.80 L409.86,75.07 L411.78,75.32 L413.68,75.56 L415.50,75.80 L417.18,76.02 L418.66,76.22 L419.90,76.42 L420.95,76.60 L421.87,76.76 L422.71,76.92 L423.52,77.06 L424.35,77.21 L425.26,77.34 L426.31,77.48 L427.15,77.63 L427.58,77.77 L427.88,77.91 L428.31,78.04 L429.14,78.17 L430.64,78.29 L433.07,78.39 L436.71,78.47 L442.15,78.53 L449.40,78.58 L457.82,78.60 L466.79,78.62 L475.68,78.63 L483.86,78.64 L490.70,78.64 L495.57,78.65" fill="none" stroke="#EBC555" stroke-width="0.85" stroke-dasharray="2,1.85" opacity="0.85"/>
<path d="M338.95,23.05 L339.27,23.00 L339.71,23.05 L340.23,23.05 L340.80,23.04 L341.40,23.05 L342.01,22.93 L342.59,22.86 L343.11,22.81 L343.58,22.79 L344.02,22.83 L344.44,22.94 L344.86,23.03 L345.29,22.92 L345.74,22.77 L346.23,22.75 L346.77,22.90 L347.36,23.25 L347.99,23.80 L348.64,24.52 L349.33,25.36 L350.03,26.29 L350.75,27.25 L351.47,28.20 L352.20,29.10 L352.94,29.95 L353.70,30.80 L354.48,31.66 L355.26,32.51 L356.06,33.37 L356.85,34.21 L357.64,35.05 L358.42,35.88 L359.19,36.71 L359.96,37.52 L360.72,38.33 L361.49,39.13 L362.25,39.92 L363.02,40.70 L363.78,41.47 L364.55,42.24 L365.33,43.00 L366.11,43.76 L366.89,44.50 L367.67,45.24 L368.45,45.96 L369.22,46.68 L370.00,47.39 L370.77,48.09 L371.52,48.79 L372.23,49.48 L372.93,50.17 L373.64,50.85 L374.36,51.51 L375.14,52.15 L375.97,52.77 L376.89,53.35 L377.90,53.89 L379.00,54.39 L380.16,54.86 L381.36,55.30 L382.59,55.74 L383.83,56.17 L385.04,56.62 L386.23,57.08 L387.39,57.56 L388.54,58.06 L389.70,58.56 L390.85,59.07 L392.00,59.57 L393.16,60.05 L394.31,60.51 L395.46,60.94 L396.59,61.34 L397.66,61.71 L398.72,62.07 L399.79,62.41 L400.89,62.74 L402.06,63.05 L403.32,63.35 L404.70,63.65 L406.26,63.94 L408.00,64.22 L409.86,64.49 L411.78,64.74 L413.68,64.99 L415.50,65.22 L417.18,65.44 L418.66,65.65 L419.90,65.85 L420.95,66.03 L421.87,66.20 L422.71,66.36 L423.52,66.51 L424.35,66.65 L425.26,66.79 L426.31,66.94 L427.15,67.08 L427.58,67.23 L427.88,67.37 L428.31,67.51 L429.14,67.64 L430.64,67.76 L433.07,67.86 L436.71,67.94 L442.15,68.01 L449.40,68.05 L457.82,68.08 L466.79,68.10 L475.68,68.11 L483.86,68.11 L490.70,68.12 L495.57,68.13" fill="none" stroke="#EBC555" stroke-width="0.85" stroke-dasharray="2,1.85" opacity="0.85"/>
<path d="M338.95,23.05 L339.27,23.05 L339.71,23.05 L340.23,23.05 L340.80,23.04 L341.40,23.05 L342.01,23.06 L342.59,23.09 L343.11,23.14 L343.58,23.16 L344.02,23.12 L344.44,23.06 L344.86,23.03 L345.29,23.07 L345.74,23.21 L346.23,23.49 L346.77,23.96 L347.36,24.64 L347.99,25.53 L348.64,26.56 L349.33,27.70 L350.03,28.89 L350.75,30.08 L351.47,31.24 L352.20,32.30 L352.94,33.30 L353.70,34.29 L354.48,35.27 L355.26,36.25 L356.06,37.21 L356.85,38.16 L357.64,39.09 L358.42,40.01 L359.19,40.92 L359.96,41.81 L360.72,42.69 L361.49,43.55 L362.25,44.41 L363.02,45.25 L363.78,46.08 L364.55,46.90 L365.33,47.71 L366.11,48.51 L366.89,49.30 L367.67,50.08 L368.45,50.84 L369.22,51.60 L370.00,52.34 L370.77,53.07 L371.52,53.80 L372.23,54.52 L372.93,55.24 L373.64,55.94 L374.36,56.62 L375.14,57.28 L375.97,57.92 L376.89,58.51 L377.90,59.07 L379.00,59.58 L380.16,60.06 L381.36,60.51 L382.59,60.96 L383.83,61.40 L385.04,61.85 L386.23,62.32 L387.39,62.81 L388.54,63.32 L389.70,63.83 L390.85,64.34 L392.00,64.84 L393.16,65.33 L394.31,65.79 L395.46,66.22 L396.59,66.62 L397.66,67.00 L398.72,67.36 L399.79,67.70 L400.89,68.03 L402.06,68.34 L403.32,68.65 L404.70,68.94 L406.26,69.23 L408.00,69.51 L409.86,69.78 L411.78,70.03 L413.68,70.28 L415.50,70.51 L417.18,70.73 L418.66,70.94 L419.90,71.13 L420.95,71.31 L421.87,71.48 L422.71,71.64 L423.52,71.79 L424.35,71.93 L425.26,72.07 L426.31,72.21 L427.15,72.35 L427.58,72.50 L427.88,72.64 L428.31,72.78 L429.14,72.90 L430.64,73.02 L433.07,73.12 L436.71,73.21 L442.15,73.27 L449.40,73.31 L457.82,73.34 L466.79,73.36 L475.68,73.37 L483.86,73.38 L490.70,73.38 L495.57,73.39" fill="none" stroke="#ECBF40" stroke-width="1.75" stroke-linejoin="round"/>
<line x1="384.27" y1="59.67" x2="384.27" y2="63.47" stroke="#D9A820" stroke-width="1.1"/>
<line x1="386.88" y1="60.70" x2="386.88" y2="64.50" stroke="#D9A820" stroke-width="1.1"/>
<line x1="390.19" y1="62.15" x2="390.19" y2="65.95" stroke="#D9A820" stroke-width="1.1"/>
<line x1="392.62" y1="63.20" x2="392.62" y2="67.00" stroke="#D9A820" stroke-width="1.1"/>
<line x1="395.30" y1="64.26" x2="395.30" y2="68.06" stroke="#D9A820" stroke-width="1.1"/>
<line x1="398.68" y1="65.45" x2="398.68" y2="69.25" stroke="#D9A820" stroke-width="1.1"/>
<line x1="402.37" y1="66.52" x2="402.37" y2="70.32" stroke="#D9A820" stroke-width="1.1"/>
<line x1="405.00" y1="67.10" x2="405.00" y2="70.90" stroke="#D9A820" stroke-width="1.1"/>
<line x1="407.76" y1="67.57" x2="407.76" y2="71.37" stroke="#D9A820" stroke-width="1.1"/>
<line x1="409.69" y1="67.85" x2="409.69" y2="71.65" stroke="#D9A820" stroke-width="1.1"/>
<line x1="413.04" y1="68.29" x2="413.04" y2="72.09" stroke="#D9A820" stroke-width="1.1"/>
<line x1="415.43" y1="68.60" x2="415.43" y2="72.40" stroke="#D9A820" stroke-width="1.1"/>
<line x1="418.09" y1="68.96" x2="418.09" y2="72.76" stroke="#D9A820" stroke-width="1.1"/>
<line x1="420.80" y1="69.39" x2="420.80" y2="73.19" stroke="#D9A820" stroke-width="1.1"/>
<line x1="423.81" y1="69.94" x2="423.81" y2="73.74" stroke="#D9A820" stroke-width="1.1"/>
<line x1="427.82" y1="70.71" x2="427.82" y2="74.51" stroke="#D9A820" stroke-width="1.1"/>
<line x1="430.48" y1="71.11" x2="430.48" y2="74.91" stroke="#D9A820" stroke-width="1.1"/>
<line x1="433.27" y1="71.23" x2="433.27" y2="75.03" stroke="#D9A820" stroke-width="1.1"/>
<line x1="436.09" y1="71.29" x2="436.09" y2="75.09" stroke="#D9A820" stroke-width="1.1"/>
<line x1="437.91" y1="71.32" x2="437.91" y2="75.12" stroke="#D9A820" stroke-width="1.1"/>
<line x1="440.93" y1="71.36" x2="440.93" y2="75.16" stroke="#D9A820" stroke-width="1.1"/>
<line x1="444.28" y1="71.38" x2="444.28" y2="75.18" stroke="#D9A820" stroke-width="1.1"/>
<line x1="447.28" y1="71.40" x2="447.28" y2="75.20" stroke="#D9A820" stroke-width="1.1"/>
<line x1="450.31" y1="71.42" x2="450.31" y2="75.22" stroke="#D9A820" stroke-width="1.1"/>
<line x1="453.18" y1="71.43" x2="453.18" y2="75.23" stroke="#D9A820" stroke-width="1.1"/>
<line x1="454.69" y1="71.43" x2="454.69" y2="75.23" stroke="#D9A820" stroke-width="1.1"/>
<line x1="458.38" y1="71.44" x2="458.38" y2="75.24" stroke="#D9A820" stroke-width="1.1"/>
<line x1="461.32" y1="71.45" x2="461.32" y2="75.25" stroke="#D9A820" stroke-width="1.1"/>
<line x1="463.87" y1="71.45" x2="463.87" y2="75.25" stroke="#D9A820" stroke-width="1.1"/>
<line x1="466.15" y1="71.46" x2="466.15" y2="75.26" stroke="#D9A820" stroke-width="1.1"/>
<line x1="469.47" y1="71.46" x2="469.47" y2="75.26" stroke="#D9A820" stroke-width="1.1"/>
<line x1="471.65" y1="71.47" x2="471.65" y2="75.27" stroke="#D9A820" stroke-width="1.1"/>
<line x1="475.89" y1="71.47" x2="475.89" y2="75.27" stroke="#D9A820" stroke-width="1.1"/>
<line x1="484.28" y1="71.48" x2="484.28" y2="75.28" stroke="#D9A820" stroke-width="1.1"/>
<path d="M338.95,23.05 L339.59,23.08 L340.45,23.05 L341.47,23.04 L342.60,23.04 L343.80,23.04 L345.01,23.13 L346.18,23.25 L347.27,23.38 L348.30,23.51 L349.32,23.62 L350.35,23.74 L351.37,23.88 L352.38,24.05 L353.39,24.26 L354.39,24.52 L355.38,24.83 L356.36,25.22 L357.34,25.68 L358.30,26.19 L359.26,26.72 L360.21,27.26 L361.16,27.78 L362.12,28.26 L363.08,28.69 L364.04,29.07 L365.00,29.43 L365.96,29.77 L366.93,30.10 L367.89,30.41 L368.85,30.72 L369.81,31.02 L370.77,31.32 L371.74,31.61 L372.70,31.90 L373.66,32.18 L374.62,32.45 L375.58,32.72 L376.55,32.98 L377.51,33.22 L378.47,33.46 L379.38,33.69 L380.22,33.90 L381.03,34.11 L381.85,34.30 L382.73,34.50 L383.72,34.69 L384.85,34.88 L386.17,35.08 L387.70,35.28 L389.43,35.50 L391.29,35.71 L393.26,35.93 L395.30,36.13 L397.35,36.33 L399.38,36.51 L401.35,36.67 L403.21,36.81 L404.98,36.94 L406.71,37.05 L408.47,37.15 L410.32,37.24 L412.31,37.32 L414.50,37.40 L416.95,37.47 L419.52,37.53 L422.09,37.58 L424.77,37.63 L427.64,37.66 L430.79,37.70 L434.33,37.72 L438.35,37.74 L442.95,37.76 L448.61,37.78 L455.47,37.78 L463.05,37.78 L470.89,37.78 L478.52,37.78 L485.49,37.77 L491.33,37.76 L495.57,37.76" fill="none" stroke="#1B4784" stroke-width="0.85" stroke-dasharray="2,1.85" opacity="0.55"/>
<path d="M338.95,23.05 L339.59,23.02 L340.45,23.05 L341.47,23.04 L342.60,23.04 L343.80,23.04 L345.01,22.99 L346.18,22.93 L347.27,22.90 L348.30,22.89 L349.32,22.90 L350.35,22.91 L351.37,22.94 L352.38,22.98 L353.39,23.04 L354.39,23.13 L355.38,23.26 L356.36,23.45 L357.34,23.69 L358.30,23.97 L359.26,24.29 L360.21,24.62 L361.16,24.96 L362.12,25.28 L363.08,25.57 L364.04,25.84 L365.00,26.10 L365.96,26.34 L366.93,26.58 L367.89,26.81 L368.85,27.03 L369.81,27.26 L370.77,27.48 L371.74,27.71 L372.70,27.92 L373.66,28.14 L374.62,28.35 L375.58,28.56 L376.55,28.76 L377.51,28.95 L378.47,29.14 L379.38,29.32 L380.22,29.49 L381.03,29.65 L381.85,29.81 L382.73,29.96 L383.72,30.12 L384.85,30.27 L386.17,30.43 L387.70,30.60 L389.43,30.77 L391.29,30.95 L393.26,31.12 L395.30,31.30 L397.35,31.46 L399.38,31.61 L401.35,31.74 L403.21,31.86 L404.98,31.96 L406.71,32.05 L408.47,32.13 L410.32,32.21 L412.31,32.28 L414.50,32.34 L416.95,32.40 L419.52,32.45 L422.09,32.49 L424.77,32.53 L427.64,32.56 L430.79,32.59 L434.33,32.61 L438.35,32.63 L442.95,32.64 L448.61,32.66 L455.47,32.66 L463.05,32.66 L470.89,32.66 L478.52,32.66 L485.49,32.65 L491.33,32.65 L495.57,32.64" fill="none" stroke="#1B4784" stroke-width="0.85" stroke-dasharray="2,1.85" opacity="0.55"/>
<path d="M338.95,23.05 L339.59,23.05 L340.45,23.05 L341.47,23.04 L342.60,23.04 L343.80,23.04 L345.01,23.06 L346.18,23.09 L347.27,23.14 L348.30,23.20 L349.32,23.26 L350.35,23.33 L351.37,23.41 L352.38,23.51 L353.39,23.65 L354.39,23.82 L355.38,24.05 L356.36,24.33 L357.34,24.68 L358.30,25.08 L359.26,25.50 L360.21,25.94 L361.16,26.37 L362.12,26.77 L363.08,27.13 L364.04,27.46 L365.00,27.76 L365.96,28.06 L366.93,28.34 L367.89,28.61 L368.85,28.88 L369.81,29.14 L370.77,29.40 L371.74,29.66 L372.70,29.91 L373.66,30.16 L374.62,30.40 L375.58,30.64 L376.55,30.87 L377.51,31.09 L378.47,31.30 L379.38,31.51 L380.22,31.70 L381.03,31.88 L381.85,32.06 L382.73,32.23 L383.72,32.40 L384.85,32.58 L386.17,32.75 L387.70,32.94 L389.43,33.13 L391.29,33.33 L393.26,33.53 L395.30,33.72 L397.35,33.89 L399.38,34.06 L401.35,34.21 L403.21,34.33 L404.98,34.45 L406.71,34.55 L408.47,34.64 L410.32,34.72 L412.31,34.80 L414.50,34.87 L416.95,34.93 L419.52,34.99 L422.09,35.04 L424.77,35.08 L427.64,35.11 L430.79,35.14 L434.33,35.17 L438.35,35.19 L442.95,35.20 L448.61,35.22 L455.47,35.22 L463.05,35.22 L470.89,35.22 L478.52,35.22 L485.49,35.21 L491.33,35.21 L495.57,35.20" fill="none" stroke="#1B4784" stroke-width="1.5" stroke-linejoin="round"/>
<line x1="345.19" y1="21.16" x2="345.19" y2="24.96" stroke="#163F78" stroke-width="1.1"/>
<line x1="361.39" y1="24.56" x2="361.39" y2="28.36" stroke="#163F78" stroke-width="1.1"/>
<line x1="363.25" y1="25.29" x2="363.25" y2="29.09" stroke="#163F78" stroke-width="1.1"/>
<line x1="364.30" y1="25.64" x2="364.30" y2="29.44" stroke="#163F78" stroke-width="1.1"/>
<line x1="366.04" y1="26.18" x2="366.04" y2="29.98" stroke="#163F78" stroke-width="1.1"/>
<line x1="367.42" y1="26.58" x2="367.42" y2="30.38" stroke="#163F78" stroke-width="1.1"/>
<line x1="367.83" y1="26.69" x2="367.83" y2="30.49" stroke="#163F78" stroke-width="1.1"/>
<line x1="369.09" y1="27.04" x2="369.09" y2="30.84" stroke="#163F78" stroke-width="1.1"/>
<line x1="371.80" y1="27.78" x2="371.80" y2="31.58" stroke="#163F78" stroke-width="1.1"/>
<line x1="372.19" y1="27.88" x2="372.19" y2="31.68" stroke="#163F78" stroke-width="1.1"/>
<line x1="373.49" y1="28.22" x2="373.49" y2="32.02" stroke="#163F78" stroke-width="1.1"/>
<line x1="376.10" y1="28.86" x2="376.10" y2="32.66" stroke="#163F78" stroke-width="1.1"/>
<line x1="376.57" y1="28.97" x2="376.57" y2="32.77" stroke="#163F78" stroke-width="1.1"/>
<line x1="378.53" y1="29.42" x2="378.53" y2="33.22" stroke="#163F78" stroke-width="1.1"/>
<line x1="379.27" y1="29.58" x2="379.27" y2="33.38" stroke="#163F78" stroke-width="1.1"/>
<line x1="380.89" y1="29.95" x2="380.89" y2="33.75" stroke="#163F78" stroke-width="1.1"/>
<line x1="381.42" y1="30.07" x2="381.42" y2="33.87" stroke="#163F78" stroke-width="1.1"/>
<line x1="383.57" y1="30.48" x2="383.57" y2="34.28" stroke="#163F78" stroke-width="1.1"/>
<line x1="385.30" y1="30.74" x2="385.30" y2="34.54" stroke="#163F78" stroke-width="1.1"/>
<line x1="386.07" y1="30.84" x2="386.07" y2="34.64" stroke="#163F78" stroke-width="1.1"/>
<line x1="387.78" y1="31.05" x2="387.78" y2="34.85" stroke="#163F78" stroke-width="1.1"/>
<line x1="389.01" y1="31.19" x2="389.01" y2="34.99" stroke="#163F78" stroke-width="1.1"/>
<line x1="389.34" y1="31.23" x2="389.34" y2="35.03" stroke="#163F78" stroke-width="1.1"/>
<line x1="391.84" y1="31.49" x2="391.84" y2="35.29" stroke="#163F78" stroke-width="1.1"/>
<line x1="392.91" y1="31.59" x2="392.91" y2="35.39" stroke="#163F78" stroke-width="1.1"/>
<line x1="393.77" y1="31.67" x2="393.77" y2="35.47" stroke="#163F78" stroke-width="1.1"/>
<line x1="394.67" y1="31.76" x2="394.67" y2="35.56" stroke="#163F78" stroke-width="1.1"/>
<line x1="397.40" y1="32.00" x2="397.40" y2="35.80" stroke="#163F78" stroke-width="1.1"/>
<line x1="398.09" y1="32.05" x2="398.09" y2="35.85" stroke="#163F78" stroke-width="1.1"/>
<line x1="399.84" y1="32.19" x2="399.84" y2="35.99" stroke="#163F78" stroke-width="1.1"/>
<line x1="401.46" y1="32.31" x2="401.46" y2="36.11" stroke="#163F78" stroke-width="1.1"/>
<line x1="402.53" y1="32.39" x2="402.53" y2="36.19" stroke="#163F78" stroke-width="1.1"/>
<line x1="404.21" y1="32.50" x2="404.21" y2="36.30" stroke="#163F78" stroke-width="1.1"/>
<line x1="404.68" y1="32.53" x2="404.68" y2="36.33" stroke="#163F78" stroke-width="1.1"/>
<line x1="406.70" y1="32.65" x2="406.70" y2="36.45" stroke="#163F78" stroke-width="1.1"/>
<line x1="407.46" y1="32.69" x2="407.46" y2="36.49" stroke="#163F78" stroke-width="1.1"/>
<line x1="409.62" y1="32.79" x2="409.62" y2="36.59" stroke="#163F78" stroke-width="1.1"/>
<line x1="410.87" y1="32.85" x2="410.87" y2="36.65" stroke="#163F78" stroke-width="1.1"/>
<line x1="410.91" y1="32.85" x2="410.91" y2="36.65" stroke="#163F78" stroke-width="1.1"/>
<line x1="412.32" y1="32.90" x2="412.32" y2="36.70" stroke="#163F78" stroke-width="1.1"/>
<line x1="413.80" y1="32.95" x2="413.80" y2="36.75" stroke="#163F78" stroke-width="1.1"/>
<line x1="416.39" y1="33.02" x2="416.39" y2="36.82" stroke="#163F78" stroke-width="1.1"/>
<line x1="416.85" y1="33.03" x2="416.85" y2="36.83" stroke="#163F78" stroke-width="1.1"/>
<line x1="418.52" y1="33.07" x2="418.52" y2="36.87" stroke="#163F78" stroke-width="1.1"/>
<line x1="419.32" y1="33.08" x2="419.32" y2="36.88" stroke="#163F78" stroke-width="1.1"/>
<line x1="421.01" y1="33.12" x2="421.01" y2="36.92" stroke="#163F78" stroke-width="1.1"/>
<line x1="422.15" y1="33.14" x2="422.15" y2="36.94" stroke="#163F78" stroke-width="1.1"/>
<line x1="423.44" y1="33.16" x2="423.44" y2="36.96" stroke="#163F78" stroke-width="1.1"/>
<line x1="425.17" y1="33.18" x2="425.17" y2="36.98" stroke="#163F78" stroke-width="1.1"/>
<line x1="426.51" y1="33.20" x2="426.51" y2="37.00" stroke="#163F78" stroke-width="1.1"/>
<line x1="428.39" y1="33.22" x2="428.39" y2="37.02" stroke="#163F78" stroke-width="1.1"/>
<line x1="429.37" y1="33.23" x2="429.37" y2="37.03" stroke="#163F78" stroke-width="1.1"/>
<line x1="431.12" y1="33.24" x2="431.12" y2="37.04" stroke="#163F78" stroke-width="1.1"/>
<line x1="432.34" y1="33.25" x2="432.34" y2="37.05" stroke="#163F78" stroke-width="1.1"/>
<line x1="433.91" y1="33.26" x2="433.91" y2="37.06" stroke="#163F78" stroke-width="1.1"/>
<line x1="434.73" y1="33.27" x2="434.73" y2="37.07" stroke="#163F78" stroke-width="1.1"/>
<line x1="435.22" y1="33.27" x2="435.22" y2="37.07" stroke="#163F78" stroke-width="1.1"/>
<line x1="437.73" y1="33.28" x2="437.73" y2="37.08" stroke="#163F78" stroke-width="1.1"/>
<line x1="439.25" y1="33.29" x2="439.25" y2="37.09" stroke="#163F78" stroke-width="1.1"/>
<line x1="440.49" y1="33.29" x2="440.49" y2="37.09" stroke="#163F78" stroke-width="1.1"/>
<line x1="441.28" y1="33.30" x2="441.28" y2="37.10" stroke="#163F78" stroke-width="1.1"/>
<line x1="442.86" y1="33.30" x2="442.86" y2="37.10" stroke="#163F78" stroke-width="1.1"/>
<line x1="443.37" y1="33.30" x2="443.37" y2="37.10" stroke="#163F78" stroke-width="1.1"/>
<line x1="445.75" y1="33.31" x2="445.75" y2="37.11" stroke="#163F78" stroke-width="1.1"/>
<line x1="446.67" y1="33.31" x2="446.67" y2="37.11" stroke="#163F78" stroke-width="1.1"/>
<line x1="447.53" y1="33.31" x2="447.53" y2="37.11" stroke="#163F78" stroke-width="1.1"/>
<line x1="448.51" y1="33.32" x2="448.51" y2="37.12" stroke="#163F78" stroke-width="1.1"/>
<line x1="451.17" y1="33.32" x2="451.17" y2="37.12" stroke="#163F78" stroke-width="1.1"/>
<line x1="452.74" y1="33.32" x2="452.74" y2="37.12" stroke="#163F78" stroke-width="1.1"/>
<line x1="452.58" y1="33.32" x2="452.58" y2="37.12" stroke="#163F78" stroke-width="1.1"/>
<line x1="455.11" y1="33.32" x2="455.11" y2="37.12" stroke="#163F78" stroke-width="1.1"/>
<line x1="455.81" y1="33.32" x2="455.81" y2="37.12" stroke="#163F78" stroke-width="1.1"/>
<line x1="456.72" y1="33.32" x2="456.72" y2="37.12" stroke="#163F78" stroke-width="1.1"/>
<line x1="458.30" y1="33.32" x2="458.30" y2="37.12" stroke="#163F78" stroke-width="1.1"/>
<line x1="460.44" y1="33.32" x2="460.44" y2="37.12" stroke="#163F78" stroke-width="1.1"/>
<line x1="461.95" y1="33.32" x2="461.95" y2="37.12" stroke="#163F78" stroke-width="1.1"/>
<line x1="461.92" y1="33.32" x2="461.92" y2="37.12" stroke="#163F78" stroke-width="1.1"/>
<line x1="464.21" y1="33.32" x2="464.21" y2="37.12" stroke="#163F78" stroke-width="1.1"/>
<line x1="464.61" y1="33.32" x2="464.61" y2="37.12" stroke="#163F78" stroke-width="1.1"/>
<line x1="467.08" y1="33.32" x2="467.08" y2="37.12" stroke="#163F78" stroke-width="1.1"/>
<line x1="467.78" y1="33.32" x2="467.78" y2="37.12" stroke="#163F78" stroke-width="1.1"/>
<line x1="470.04" y1="33.32" x2="470.04" y2="37.12" stroke="#163F78" stroke-width="1.1"/>
<line x1="471.55" y1="33.32" x2="471.55" y2="37.12" stroke="#163F78" stroke-width="1.1"/>
<line x1="472.10" y1="33.32" x2="472.10" y2="37.12" stroke="#163F78" stroke-width="1.1"/>
<line x1="474.08" y1="33.32" x2="474.08" y2="37.12" stroke="#163F78" stroke-width="1.1"/>
<line x1="479.40" y1="33.32" x2="479.40" y2="37.12" stroke="#163F78" stroke-width="1.1"/>
<line x1="481.19" y1="33.31" x2="481.19" y2="37.11" stroke="#163F78" stroke-width="1.1"/>
<line x1="486.98" y1="33.31" x2="486.98" y2="37.11" stroke="#163F78" stroke-width="1.1"/>
<line x1="489.46" y1="33.31" x2="489.46" y2="37.11" stroke="#163F78" stroke-width="1.1"/>
<line x1="330.60" y1="18.20" x2="330.60" y2="118.70" stroke="#1f1f1f" stroke-width="1.1" />
<line x1="330.10" y1="118.20" x2="513.55" y2="118.20" stroke="#1f1f1f" stroke-width="1.1" />
<line x1="327.60" y1="113.75" x2="330.60" y2="113.75" stroke="#1f1f1f" stroke-width="1.0"  shape-rendering="crispEdges"/>
<text x="324.70" y="116.35" font-size="7.8" fill="#3a3a3a" text-anchor="end" font-weight="normal" stroke="#3a3a3a" stroke-width="0.12" >0.00</text>
<line x1="327.60" y1="91.08" x2="330.60" y2="91.08" stroke="#1f1f1f" stroke-width="1.0"  shape-rendering="crispEdges"/>
<text x="324.70" y="93.67" font-size="7.8" fill="#3a3a3a" text-anchor="end" font-weight="normal" stroke="#3a3a3a" stroke-width="0.12" >0.25</text>
<line x1="327.60" y1="68.40" x2="330.60" y2="68.40" stroke="#1f1f1f" stroke-width="1.0"  shape-rendering="crispEdges"/>
<text x="324.70" y="71.00" font-size="7.8" fill="#3a3a3a" text-anchor="end" font-weight="normal" stroke="#3a3a3a" stroke-width="0.12" >0.50</text>
<line x1="327.60" y1="45.72" x2="330.60" y2="45.72" stroke="#1f1f1f" stroke-width="1.0"  shape-rendering="crispEdges"/>
<text x="324.70" y="48.32" font-size="7.8" fill="#3a3a3a" text-anchor="end" font-weight="normal" stroke="#3a3a3a" stroke-width="0.12" >0.75</text>
<line x1="327.60" y1="23.05" x2="330.60" y2="23.05" stroke="#1f1f1f" stroke-width="1.0"  shape-rendering="crispEdges"/>
<text x="324.70" y="25.65" font-size="7.8" fill="#3a3a3a" text-anchor="end" font-weight="normal" stroke="#3a3a3a" stroke-width="0.12" >1.00</text>
<line x1="338.95" y1="118.20" x2="338.95" y2="121.00" stroke="#1f1f1f" stroke-width="1.0"  shape-rendering="crispEdges"/>
<text x="338.95" y="130.60" font-size="7.7" fill="#3a3a3a" text-anchor="middle" font-weight="normal" stroke="#3a3a3a" stroke-width="0.12" >0</text>
<line x1="359.75" y1="118.20" x2="359.75" y2="121.00" stroke="#1f1f1f" stroke-width="1.0"  shape-rendering="crispEdges"/>
<text x="359.75" y="130.60" font-size="7.7" fill="#3a3a3a" text-anchor="middle" font-weight="normal" stroke="#3a3a3a" stroke-width="0.12" >1</text>
<line x1="380.55" y1="118.20" x2="380.55" y2="121.00" stroke="#1f1f1f" stroke-width="1.0"  shape-rendering="crispEdges"/>
<text x="380.55" y="130.60" font-size="7.7" fill="#3a3a3a" text-anchor="middle" font-weight="normal" stroke="#3a3a3a" stroke-width="0.12" >2</text>
<line x1="401.35" y1="118.20" x2="401.35" y2="121.00" stroke="#1f1f1f" stroke-width="1.0"  shape-rendering="crispEdges"/>
<text x="401.35" y="130.60" font-size="7.7" fill="#3a3a3a" text-anchor="middle" font-weight="normal" stroke="#3a3a3a" stroke-width="0.12" >3</text>
<line x1="422.15" y1="118.20" x2="422.15" y2="121.00" stroke="#1f1f1f" stroke-width="1.0"  shape-rendering="crispEdges"/>
<text x="422.15" y="130.60" font-size="7.7" fill="#3a3a3a" text-anchor="middle" font-weight="normal" stroke="#3a3a3a" stroke-width="0.12" >4</text>
<line x1="442.95" y1="118.20" x2="442.95" y2="121.00" stroke="#1f1f1f" stroke-width="1.0"  shape-rendering="crispEdges"/>
<text x="442.95" y="130.60" font-size="7.7" fill="#3a3a3a" text-anchor="middle" font-weight="normal" stroke="#3a3a3a" stroke-width="0.12" >5</text>
<line x1="463.75" y1="118.20" x2="463.75" y2="121.00" stroke="#1f1f1f" stroke-width="1.0"  shape-rendering="crispEdges"/>
<text x="463.75" y="130.60" font-size="7.7" fill="#3a3a3a" text-anchor="middle" font-weight="normal" stroke="#3a3a3a" stroke-width="0.12" >6</text>
<line x1="484.55" y1="118.20" x2="484.55" y2="121.00" stroke="#1f1f1f" stroke-width="1.0"  shape-rendering="crispEdges"/>
<text x="484.55" y="130.60" font-size="7.7" fill="#3a3a3a" text-anchor="middle" font-weight="normal" stroke="#3a3a3a" stroke-width="0.12" >7</text>
<line x1="505.35" y1="118.20" x2="505.35" y2="121.00" stroke="#1f1f1f" stroke-width="1.0"  shape-rendering="crispEdges"/>
<text x="505.35" y="130.60" font-size="7.7" fill="#3a3a3a" text-anchor="middle" font-weight="normal" stroke="#3a3a3a" stroke-width="0.12" >8</text>
<text x="420.85" y="142.70" font-size="9" fill="#3a3a3a" text-anchor="middle" font-weight="normal"  textLength="31.6" lengthAdjust="spacingAndGlyphs" stroke="#3a3a3a" stroke-width="0.3">Time(years)</text>
<text x="0" y="0" font-size="8.8" fill="#3a3a3a" stroke="#3a3a3a" stroke-width="0.28" text-anchor="middle" transform="translate(304.30,67.6) rotate(-90)" textLength="43.5" lengthAdjust="spacingAndGlyphs">OS (proportion)</text>
<text x="340.00" y="100.3" font-size="7.5" fill="#3a3a3a"><tspan font-style="italic">P</tspan> &lt; .001</text>
<line x1="330.60" y1="149.30" x2="330.60" y2="168.30" stroke="#1f1f1f" stroke-width="1.1" />
<line x1="330.10" y1="167.80" x2="513.55" y2="167.80" stroke="#1f1f1f" stroke-width="1.1" />
<line x1="327.60" y1="153.30" x2="330.60" y2="153.30" stroke="#1f1f1f" stroke-width="1.0"  shape-rendering="crispEdges"/>
<line x1="327.60" y1="163.20" x2="330.60" y2="163.20" stroke="#1f1f1f" stroke-width="1.0"  shape-rendering="crispEdges"/>
<line x1="338.95" y1="167.80" x2="338.95" y2="170.60" stroke="#1f1f1f" stroke-width="1.0"  shape-rendering="crispEdges"/>
<text x="338.95" y="180.50" font-size="7.7" fill="#3a3a3a" text-anchor="middle" font-weight="normal" stroke="#3a3a3a" stroke-width="0.12" >0</text>
<text x="338.95" y="156.10" font-size="7.7" fill="#ECC352" text-anchor="middle" font-weight="normal" stroke="#ECC352" stroke-width="0.12" >303</text>
<text x="338.95" y="165.70" font-size="7.7" fill="#2E5690" text-anchor="middle" font-weight="normal" stroke="#2E5690" stroke-width="0.12" >568</text>
<line x1="359.75" y1="167.80" x2="359.75" y2="170.60" stroke="#1f1f1f" stroke-width="1.0"  shape-rendering="crispEdges"/>
<text x="359.75" y="180.50" font-size="7.7" fill="#3a3a3a" text-anchor="middle" font-weight="normal" stroke="#3a3a3a" stroke-width="0.12" >1</text>
<text x="359.75" y="156.10" font-size="7.7" fill="#ECC352" text-anchor="middle" font-weight="normal" stroke="#ECC352" stroke-width="0.12" >236</text>
<text x="359.75" y="165.70" font-size="7.7" fill="#2E5690" text-anchor="middle" font-weight="normal" stroke="#2E5690" stroke-width="0.12" >548</text>
<line x1="380.55" y1="167.80" x2="380.55" y2="170.60" stroke="#1f1f1f" stroke-width="1.0"  shape-rendering="crispEdges"/>
<text x="380.55" y="180.50" font-size="7.7" fill="#3a3a3a" text-anchor="middle" font-weight="normal" stroke="#3a3a3a" stroke-width="0.12" >2</text>
<text x="380.55" y="156.10" font-size="7.7" fill="#ECC352" text-anchor="middle" font-weight="normal" stroke="#ECC352" stroke-width="0.12" >171</text>
<text x="380.55" y="165.70" font-size="7.7" fill="#2E5690" text-anchor="middle" font-weight="normal" stroke="#2E5690" stroke-width="0.12" >490</text>
<line x1="401.35" y1="167.80" x2="401.35" y2="170.60" stroke="#1f1f1f" stroke-width="1.0"  shape-rendering="crispEdges"/>
<text x="401.35" y="180.50" font-size="7.7" fill="#3a3a3a" text-anchor="middle" font-weight="normal" stroke="#3a3a3a" stroke-width="0.12" >3</text>
<text x="401.35" y="156.10" font-size="7.7" fill="#ECC352" text-anchor="middle" font-weight="normal" stroke="#ECC352" stroke-width="0.12" >128</text>
<text x="401.35" y="165.70" font-size="7.7" fill="#2E5690" text-anchor="middle" font-weight="normal" stroke="#2E5690" stroke-width="0.12" >416</text>
<line x1="422.15" y1="167.80" x2="422.15" y2="170.60" stroke="#1f1f1f" stroke-width="1.0"  shape-rendering="crispEdges"/>
<text x="422.15" y="180.50" font-size="7.7" fill="#3a3a3a" text-anchor="middle" font-weight="normal" stroke="#3a3a3a" stroke-width="0.12" >4</text>
<text x="422.15" y="156.10" font-size="7.7" fill="#ECC352" text-anchor="middle" font-weight="normal" stroke="#ECC352" stroke-width="0.12" >79</text>
<text x="422.15" y="165.70" font-size="7.7" fill="#2E5690" text-anchor="middle" font-weight="normal" stroke="#2E5690" stroke-width="0.12" >274</text>
<line x1="442.95" y1="167.80" x2="442.95" y2="170.60" stroke="#1f1f1f" stroke-width="1.0"  shape-rendering="crispEdges"/>
<text x="442.95" y="180.50" font-size="7.7" fill="#3a3a3a" text-anchor="middle" font-weight="normal" stroke="#3a3a3a" stroke-width="0.12" >5</text>
<text x="442.95" y="156.10" font-size="7.7" fill="#ECC352" text-anchor="middle" font-weight="normal" stroke="#ECC352" stroke-width="0.12" >43</text>
<text x="442.95" y="165.70" font-size="7.7" fill="#2E5690" text-anchor="middle" font-weight="normal" stroke="#2E5690" stroke-width="0.12" >167</text>
<line x1="463.75" y1="167.80" x2="463.75" y2="170.60" stroke="#1f1f1f" stroke-width="1.0"  shape-rendering="crispEdges"/>
<text x="463.75" y="180.50" font-size="7.7" fill="#3a3a3a" text-anchor="middle" font-weight="normal" stroke="#3a3a3a" stroke-width="0.12" >6</text>
<text x="463.75" y="156.10" font-size="7.7" fill="#ECC352" text-anchor="middle" font-weight="normal" stroke="#ECC352" stroke-width="0.12" >24</text>
<text x="463.75" y="165.70" font-size="7.7" fill="#2E5690" text-anchor="middle" font-weight="normal" stroke="#2E5690" stroke-width="0.12" >69</text>
<line x1="484.55" y1="167.80" x2="484.55" y2="170.60" stroke="#1f1f1f" stroke-width="1.0"  shape-rendering="crispEdges"/>
<text x="484.55" y="180.50" font-size="7.7" fill="#3a3a3a" text-anchor="middle" font-weight="normal" stroke="#3a3a3a" stroke-width="0.12" >7</text>
<text x="484.55" y="156.10" font-size="7.7" fill="#ECC352" text-anchor="middle" font-weight="normal" stroke="#ECC352" stroke-width="0.12" >1</text>
<text x="484.55" y="165.70" font-size="7.7" fill="#2E5690" text-anchor="middle" font-weight="normal" stroke="#2E5690" stroke-width="0.12" >5</text>
<line x1="505.35" y1="167.80" x2="505.35" y2="170.60" stroke="#1f1f1f" stroke-width="1.0"  shape-rendering="crispEdges"/>
<text x="505.35" y="180.50" font-size="7.7" fill="#3a3a3a" text-anchor="middle" font-weight="normal" stroke="#3a3a3a" stroke-width="0.12" >8</text>
<text x="505.35" y="156.10" font-size="7.7" fill="#ECC352" text-anchor="middle" font-weight="normal" stroke="#ECC352" stroke-width="0.12" >0</text>
<text x="505.35" y="165.70" font-size="7.7" fill="#2E5690" text-anchor="middle" font-weight="normal" stroke="#2E5690" stroke-width="0.12" >0</text>
<text x="420.85" y="192.60" font-size="9" fill="#3a3a3a" text-anchor="middle" font-weight="normal"  textLength="31.6" lengthAdjust="spacingAndGlyphs" stroke="#3a3a3a" stroke-width="0.3">Time(years)</text>
<text x="324.60" y="156.10" font-size="7.7" fill="#ECC352" text-anchor="end">AML<tspan font-size="5" dy="-3">lnc69</tspan><tspan dy="3">-High</tspan></text>
<text x="324.60" y="165.70" font-size="7.7" fill="#2E5690" text-anchor="end">AML<tspan font-size="5" dy="-3">lnc69</tspan><tspan dy="3">-Low</tspan></text>
<line x1="196.10" y1="364.43" x2="363.71" y2="224.62" stroke="#222" stroke-width="1.1" />
<path d="M199.60,361.40 L199.85,359.42 L199.61,357.09 L199.76,354.46 L199.29,350.73 L200.01,348.26 L200.04,345.55 L199.88,344.43 L199.85,343.17 L200.65,341.08 L200.08,340.39 L201.14,339.11 L200.74,337.93 L200.86,336.44 L201.55,335.35 L201.71,333.79 L202.05,332.72 L202.47,331.14 L203.30,330.55 L203.46,329.32 L204.11,329.18 L203.66,328.04 L204.53,327.73 L205.06,326.76 L205.30,326.15 L205.16,325.10 L206.02,324.26 L206.02,322.89 L205.93,321.44 L206.95,320.47 L206.71,319.54 L207.49,318.69 L207.49,317.57 L207.90,317.00 L208.20,315.77 L208.48,314.54 L208.39,314.18 L209.54,313.07 L209.29,311.65 L209.68,311.31 L210.25,309.81 L210.73,308.41 L210.91,307.91 L211.60,306.25 L212.08,305.06 L213.53,303.27 L214.21,302.71 L215.08,301.39 L215.68,300.02 L215.99,298.85 L215.99,298.22 L216.86,296.64 L217.18,295.93 L217.44,294.84 L218.03,294.11 L218.55,292.97 L218.47,291.78 L219.06,291.11 L220.16,290.31 L220.65,289.31 L220.78,288.31 L221.88,286.55 L222.12,285.38 L223.67,284.46 L223.98,283.69 L225.06,282.11 L225.69,281.52 L226.41,280.36 L227.56,279.64 L227.84,278.82 L228.20,277.93 L229.22,276.98 L229.65,276.86 L230.78,275.51 L231.69,275.38 L232.01,274.00 L232.98,273.99 L233.85,273.34 L235.16,272.54 L235.52,272.31 L236.75,271.33 L236.94,270.88 L237.87,270.20 L238.72,269.52 L239.60,268.32 L241.80,267.70 L242.79,266.34 L244.52,264.96 L246.70,263.02 L248.05,261.26 L250.34,260.08 L251.95,259.90 L253.40,258.29 L255.33,258.19 L256.85,257.00 L258.22,256.11 L259.74,255.66 L261.62,254.46 L263.02,254.14 L264.89,253.26 L266.60,252.90 L268.77,251.48 L269.73,251.14 L272.01,251.00 L273.01,249.99 L274.85,250.10 L276.55,249.22 L277.87,249.10 L278.74,248.94 L279.55,248.25 L280.28,247.30 L281.78,246.89 L282.36,246.82 L283.16,246.22 L283.51,245.81 L284.89,245.85 L285.93,245.96 L286.18,245.54 L287.09,244.94 L287.91,245.48 L289.26,245.10 L289.30,244.36 L289.91,243.45 L289.84,242.53 L289.56,241.79 L290.65,241.37 L291.38,240.76 L291.89,240.75 L293.75,239.89 L295.18,239.88 L296.35,240.55 L297.97,239.91 L300.44,239.93 L301.23,239.50 L302.96,239.81 L304.46,239.73 L306.34,239.52 L308.42,238.59 L309.38,238.38 L310.74,238.06 L312.14,236.93 L314.42,236.57 L315.49,236.09 L316.65,235.14 L318.62,235.42 L320.11,234.18 L320.88,234.21 L323.01,233.74 L324.19,233.46 L325.24,232.96 L326.73,232.27 L327.96,231.85 L330.22,231.53 L331.36,231.24 L333.06,230.54 L333.93,230.04 L335.39,230.11 L337.35,229.26 L338.28,229.15 L339.95,228.89 L341.09,228.09 L342.53,227.87 L344.25,227.61 L345.27,227.88 L346.93,227.78 L348.58,227.63 L349.73,227.10 L351.73,226.55 L353.25,226.51 L354.52,227.14 L356.05,226.49 L356.86,226.64 L358.93,226.43 L360.03,226.29 L360.50,226.60" fill="none" stroke="#F0CC60" stroke-width="1.4"/>
<path d="M199.60,361.40 L199.20,359.32 L199.89,357.48 L199.74,354.25 L199.69,351.57 L199.70,348.42 L199.64,346.40 L200.00,345.27 L200.33,343.49 L200.03,342.07 L199.83,340.79 L200.43,340.00 L200.59,339.35 L201.01,337.78 L201.08,335.97 L201.53,334.75 L202.08,334.26 L202.60,332.35 L203.15,331.87 L203.35,331.13 L203.71,330.38 L203.67,330.00 L204.55,328.71 L204.70,328.58 L204.77,327.63 L205.12,326.99 L205.47,325.79 L205.67,324.63 L206.49,323.03 L206.53,322.26 L207.00,320.79 L206.88,319.66 L207.64,318.60 L208.16,317.80 L208.50,316.98 L208.87,316.47 L208.80,315.42 L209.25,314.61 L209.23,313.42 L209.70,313.23 L210.13,311.59 L210.70,311.24 L211.27,309.72 L211.75,308.44 L212.43,307.35 L212.87,306.54 L213.60,304.87 L215.05,303.30 L215.14,302.64 L215.87,301.37 L215.97,300.00 L216.50,299.26 L216.80,298.51 L217.14,297.28 L217.57,295.78 L218.74,294.56 L218.61,293.87 L219.25,292.10 L220.28,291.01 L219.96,290.01 L221.10,289.22 L221.38,287.71 L222.13,286.66 L223.68,285.78 L224.70,284.69 L225.53,283.62 L225.98,282.25 L226.86,281.53 L227.01,280.95 L228.34,280.04 L228.71,279.68 L229.30,278.85 L230.41,278.28 L230.87,277.70 L231.16,277.07 L232.11,275.85 L232.88,275.18 L233.79,274.85 L235.01,274.44 L236.17,273.78 L236.24,272.69 L236.96,272.23 L238.07,271.80 L239.07,270.61 L239.93,270.02 L240.93,268.57 L242.88,267.47 L244.89,266.34 L246.12,265.03 L248.03,263.88 L250.02,263.07 L251.50,262.36 L253.07,261.83 L255.42,260.97 L256.61,260.12 L258.41,259.04 L259.93,258.77 L261.39,257.65 L263.65,257.14 L265.10,256.88 L266.86,255.57 L268.84,254.94 L269.57,254.57 L271.22,253.63 L273.46,253.40 L274.26,252.68 L276.08,252.21 L277.27,251.82 L278.37,251.06 L279.63,251.16 L280.15,250.52 L280.93,249.89 L281.78,249.34 L282.89,248.83 L283.31,248.16 L284.50,248.41 L286.38,248.12 L287.91,246.91 L289.42,247.22 L291.01,246.59 L292.17,246.16 L294.02,245.59 L295.22,245.36 L297.06,245.24 L298.49,244.84 L299.37,243.84 L300.99,243.38 L302.37,243.25 L304.25,242.64 L305.59,241.65 L306.60,241.89 L307.85,240.76 L309.21,239.83 L311.39,239.94 L312.61,238.41 L313.74,237.71 L315.52,237.33 L316.75,236.46 L317.90,235.84 L320.10,235.50 L320.77,234.83 L322.77,234.19 L324.37,233.99 L325.64,233.54 L327.35,233.45 L328.41,232.41 L329.73,231.81 L331.31,232.07 L332.38,231.24 L334.09,230.67 L335.74,230.69 L337.18,229.84 L338.85,229.30 L340.10,229.19 L341.55,228.98 L342.51,228.42 L344.11,228.15 L346.08,227.85 L346.68,227.45 L348.78,227.61 L350.18,227.37 L351.03,227.33 L353.06,226.90 L354.64,227.05 L355.40,226.94 L357.46,226.35 L358.77,226.69 L359.40,226.88 L360.50,226.60" fill="none" stroke="#4A5C98" stroke-width="1.4"/>
<path d="M199.60,361.40 L199.48,359.79 L199.71,356.87 L199.15,354.72 L199.38,351.23 L200.08,348.70 L200.00,346.48 L199.93,344.51 L200.05,343.78 L200.10,342.50 L200.41,340.83 L200.69,340.24 L200.52,338.58 L201.32,337.70 L201.52,336.74 L201.88,335.46 L201.97,334.08 L202.39,333.03 L203.14,331.24 L202.81,330.51 L203.89,330.06 L203.92,329.38 L204.14,328.91 L204.33,328.47 L204.88,327.96 L205.30,327.00 L205.79,325.93 L205.95,323.98 L206.46,323.48 L206.83,321.95 L206.99,320.54 L207.43,319.89 L207.27,318.50 L208.11,318.45 L207.76,317.42 L208.38,315.97 L208.61,315.64 L209.45,314.12 L209.51,313.28 L209.89,312.69 L210.36,312.40 L210.41,311.48 L210.73,309.62 L211.62,308.41 L212.02,307.47 L213.22,305.90 L213.54,305.18 L214.56,303.94 L215.76,302.19 L215.90,301.20 L216.52,300.21 L216.85,299.21 L217.57,298.11 L217.50,297.27 L217.76,295.82 L218.88,294.89 L218.94,293.26 L219.27,292.58 L219.41,291.43 L220.50,289.75 L221.11,288.97 L221.89,287.73 L222.74,286.92 L223.01,285.17 L224.49,284.88 L224.98,283.39 L226.08,282.34 L226.59,281.53 L227.25,281.09 L227.82,280.26 L228.87,279.35 L229.35,279.38 L229.83,278.25 L231.05,277.54 L231.31,276.96 L232.62,275.89 L233.14,275.33 L234.46,274.67 L235.32,273.70 L235.63,273.47 L236.83,272.69 L236.94,271.81 L237.99,271.25 L239.15,271.13 L239.72,269.80 L241.65,269.12 L243.24,267.68 L244.35,266.38 L246.75,265.11 L248.14,264.06 L249.93,263.02 L252.05,261.92 L252.89,261.86 L255.34,261.20 L256.61,260.51 L258.72,259.20 L260.22,259.05 L261.83,258.03 L263.19,257.11 L264.83,256.11 L266.84,255.57 L268.68,254.65 L270.36,254.57 L271.96,254.16 L273.51,253.32 L274.26,252.95 L275.87,252.05 L277.68,251.76 L278.67,251.65 L279.85,250.62 L280.31,250.61 L281.19,250.08 L281.75,249.10 L282.69,249.21 L283.35,248.76 L285.25,248.37 L286.54,247.27 L287.85,247.67 L288.87,246.77 L290.60,246.62 L292.23,246.18 L294.00,245.34 L294.80,245.05 L296.32,244.58 L298.53,244.86 L299.18,244.09 L300.83,243.43 L302.30,243.22 L303.95,242.44 L305.03,241.86 L306.39,241.49 L308.36,240.73 L309.22,239.91 L310.92,239.60 L312.73,238.63 L314.19,238.06 L315.30,237.06 L316.80,236.62 L318.18,235.97 L319.66,235.04 L321.17,234.99 L322.19,234.34 L323.95,234.36 L325.85,233.52 L327.26,233.46 L328.13,232.69 L329.44,232.52 L331.37,232.08 L332.93,231.38 L334.32,230.81 L335.19,230.38 L336.55,229.55 L338.68,229.04 L339.51,228.68 L341.66,228.37 L342.33,228.62 L343.86,228.31 L345.81,228.03 L347.53,227.55 L348.86,226.85 L350.28,227.10 L351.66,226.58 L353.07,227.19 L353.88,226.55 L355.81,226.95 L356.98,226.34 L358.33,226.72 L359.91,226.51 L360.50,226.60" fill="none" stroke="#7E2146" stroke-width="1.4"/>
<rect x="193.6" y="221.8" width="172.9" height="144.5" fill="none" stroke="#1f1f1f" stroke-width="1.1"/>
<line x1="190.60" y1="361.35" x2="193.60" y2="361.35" stroke="#1f1f1f" stroke-width="1.0"  shape-rendering="crispEdges"/>
<text x="188.10" y="364.05" font-size="7.8" fill="#3a3a3a" text-anchor="end" font-weight="normal" stroke="#3a3a3a" stroke-width="0.12" >0.0</text>
<line x1="199.80" y1="366.30" x2="199.80" y2="369.20" stroke="#1f1f1f" stroke-width="1.0"  shape-rendering="crispEdges"/>
<text x="199.80" y="379.20" font-size="7.8" fill="#3a3a3a" text-anchor="middle" font-weight="normal" stroke="#3a3a3a" stroke-width="0.12" >0.0</text>
<line x1="190.60" y1="334.54" x2="193.60" y2="334.54" stroke="#1f1f1f" stroke-width="1.0"  shape-rendering="crispEdges"/>
<text x="188.10" y="337.24" font-size="7.8" fill="#3a3a3a" text-anchor="end" font-weight="normal" stroke="#3a3a3a" stroke-width="0.12" >0.2</text>
<line x1="231.94" y1="366.30" x2="231.94" y2="369.20" stroke="#1f1f1f" stroke-width="1.0"  shape-rendering="crispEdges"/>
<text x="231.94" y="379.20" font-size="7.8" fill="#3a3a3a" text-anchor="middle" font-weight="normal" stroke="#3a3a3a" stroke-width="0.12" >0.2</text>
<line x1="190.60" y1="307.73" x2="193.60" y2="307.73" stroke="#1f1f1f" stroke-width="1.0"  shape-rendering="crispEdges"/>
<text x="188.10" y="310.43" font-size="7.8" fill="#3a3a3a" text-anchor="end" font-weight="normal" stroke="#3a3a3a" stroke-width="0.12" >0.4</text>
<line x1="264.08" y1="366.30" x2="264.08" y2="369.20" stroke="#1f1f1f" stroke-width="1.0"  shape-rendering="crispEdges"/>
<text x="264.08" y="379.20" font-size="7.8" fill="#3a3a3a" text-anchor="middle" font-weight="normal" stroke="#3a3a3a" stroke-width="0.12" >0.4</text>
<line x1="190.60" y1="280.92" x2="193.60" y2="280.92" stroke="#1f1f1f" stroke-width="1.0"  shape-rendering="crispEdges"/>
<text x="188.10" y="283.62" font-size="7.8" fill="#3a3a3a" text-anchor="end" font-weight="normal" stroke="#3a3a3a" stroke-width="0.12" >0.6</text>
<line x1="296.22" y1="366.30" x2="296.22" y2="369.20" stroke="#1f1f1f" stroke-width="1.0"  shape-rendering="crispEdges"/>
<text x="296.22" y="379.20" font-size="7.8" fill="#3a3a3a" text-anchor="middle" font-weight="normal" stroke="#3a3a3a" stroke-width="0.12" >0.6</text>
<line x1="190.60" y1="254.11" x2="193.60" y2="254.11" stroke="#1f1f1f" stroke-width="1.0"  shape-rendering="crispEdges"/>
<text x="188.10" y="256.81" font-size="7.8" fill="#3a3a3a" text-anchor="end" font-weight="normal" stroke="#3a3a3a" stroke-width="0.12" >0.8</text>
<line x1="328.36" y1="366.30" x2="328.36" y2="369.20" stroke="#1f1f1f" stroke-width="1.0"  shape-rendering="crispEdges"/>
<text x="328.36" y="379.20" font-size="7.8" fill="#3a3a3a" text-anchor="middle" font-weight="normal" stroke="#3a3a3a" stroke-width="0.12" >0.8</text>
<line x1="190.60" y1="227.30" x2="193.60" y2="227.30" stroke="#1f1f1f" stroke-width="1.0"  shape-rendering="crispEdges"/>
<text x="188.10" y="230.00" font-size="7.8" fill="#3a3a3a" text-anchor="end" font-weight="normal" stroke="#3a3a3a" stroke-width="0.12" >1.0</text>
<line x1="360.50" y1="366.30" x2="360.50" y2="369.20" stroke="#1f1f1f" stroke-width="1.0"  shape-rendering="crispEdges"/>
<text x="360.50" y="379.20" font-size="7.8" fill="#3a3a3a" text-anchor="middle" font-weight="normal" stroke="#3a3a3a" stroke-width="0.12" >1.0</text>
<text x="280.10" y="391.30" font-size="9" fill="#3a3a3a" text-anchor="middle" font-weight="normal"  textLength="35" lengthAdjust="spacingAndGlyphs" stroke="#3a3a3a" stroke-width="0.3">1-Specificity</text>
<text x="0" y="0" font-size="9" fill="#3a3a3a" stroke="#3a3a3a" stroke-width="0.3" text-anchor="middle" transform="translate(171.8,294) rotate(-90)" textLength="28" lengthAdjust="spacingAndGlyphs">Sensitivity</text>
<line x1="278.90" y1="337.30" x2="293.90" y2="337.30" stroke="#EACB5A" stroke-width="1.3" />
<text x="296.20" y="339.60" font-size="7.0" fill="#3a3a3a" text-anchor="start" font-weight="normal" stroke="#3a3a3a" stroke-width="0.12" >AUC at 1 year: 0.78</text>
<line x1="278.90" y1="347.95" x2="293.90" y2="347.95" stroke="#6475AA" stroke-width="1.3" />
<text x="296.20" y="350.25" font-size="7.0" fill="#3a3a3a" text-anchor="start" font-weight="normal" stroke="#3a3a3a" stroke-width="0.12" >AUC at 2 years: 0.77</text>
<line x1="278.90" y1="358.60" x2="293.90" y2="358.60" stroke="#A03A60" stroke-width="1.3" />
<text x="296.20" y="360.90" font-size="7.0" fill="#3a3a3a" text-anchor="start" font-weight="normal" stroke="#3a3a3a" stroke-width="0.12" >AUC at 3 years: 0.77</text>
<rect x="0.5" y="0.5" width="519" height="399" fill="none" stroke="#646464" stroke-width="1.15"/>
</svg>
</body></html>
